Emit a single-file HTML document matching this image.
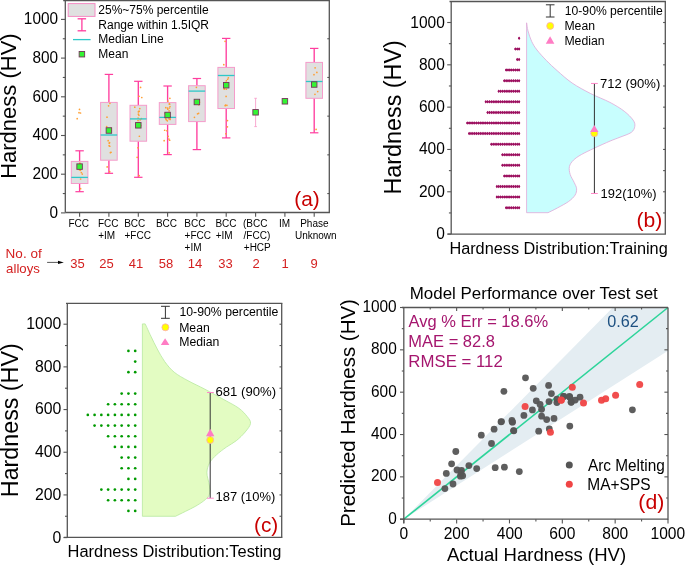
<!DOCTYPE html>
<html><head><meta charset="utf-8"><style>
html,body{margin:0;padding:0;background:#fff;}
svg{display:block;will-change:transform;}
text{font-family:"Liberation Sans", sans-serif;}
</style></head><body>
<svg width="685" height="566" viewBox="0 0 685 566">
<rect width="685" height="566" fill="#fff"/>
<line x1="79.60" y1="150.80" x2="79.60" y2="161.40" stroke="#ff3d9e" stroke-width="1.35" />
<line x1="79.60" y1="183.50" x2="79.60" y2="191.70" stroke="#ff3d9e" stroke-width="1.35" />
<line x1="75.40" y1="150.80" x2="83.80" y2="150.80" stroke="#ff3d9e" stroke-width="1.2" />
<line x1="75.40" y1="191.70" x2="83.80" y2="191.70" stroke="#ff3d9e" stroke-width="1.2" />
<rect x="71.30" y="161.40" width="16.60" height="22.10" fill="#e0e0e0" stroke="#f59ccb" stroke-width="1.0"/>
<line x1="108.90" y1="74.40" x2="108.90" y2="102.40" stroke="#ff3d9e" stroke-width="1.35" />
<line x1="108.90" y1="160.20" x2="108.90" y2="173.30" stroke="#ff3d9e" stroke-width="1.35" />
<line x1="104.70" y1="74.40" x2="113.10" y2="74.40" stroke="#ff3d9e" stroke-width="1.2" />
<line x1="104.70" y1="173.30" x2="113.10" y2="173.30" stroke="#ff3d9e" stroke-width="1.2" />
<rect x="100.60" y="102.40" width="16.60" height="57.80" fill="#e0e0e0" stroke="#f59ccb" stroke-width="1.0"/>
<line x1="138.30" y1="81.30" x2="138.30" y2="105.30" stroke="#ff3d9e" stroke-width="1.35" />
<line x1="138.30" y1="141.20" x2="138.30" y2="177.30" stroke="#ff3d9e" stroke-width="1.35" />
<line x1="134.10" y1="81.30" x2="142.50" y2="81.30" stroke="#ff3d9e" stroke-width="1.2" />
<line x1="134.10" y1="177.30" x2="142.50" y2="177.30" stroke="#ff3d9e" stroke-width="1.2" />
<rect x="130.00" y="105.30" width="16.60" height="35.90" fill="#e0e0e0" stroke="#f59ccb" stroke-width="1.0"/>
<line x1="167.60" y1="86.00" x2="167.60" y2="102.60" stroke="#ff3d9e" stroke-width="1.35" />
<line x1="167.60" y1="124.40" x2="167.60" y2="154.60" stroke="#ff3d9e" stroke-width="1.35" />
<line x1="163.40" y1="86.00" x2="171.80" y2="86.00" stroke="#ff3d9e" stroke-width="1.2" />
<line x1="163.40" y1="154.60" x2="171.80" y2="154.60" stroke="#ff3d9e" stroke-width="1.2" />
<rect x="159.30" y="102.60" width="16.60" height="21.80" fill="#e0e0e0" stroke="#f59ccb" stroke-width="1.0"/>
<line x1="196.90" y1="78.50" x2="196.90" y2="85.70" stroke="#ff3d9e" stroke-width="1.35" />
<line x1="196.90" y1="121.60" x2="196.90" y2="149.60" stroke="#ff3d9e" stroke-width="1.35" />
<line x1="192.70" y1="78.50" x2="201.10" y2="78.50" stroke="#ff3d9e" stroke-width="1.2" />
<line x1="192.70" y1="149.60" x2="201.10" y2="149.60" stroke="#ff3d9e" stroke-width="1.2" />
<rect x="188.60" y="85.70" width="16.60" height="35.90" fill="#e0e0e0" stroke="#f59ccb" stroke-width="1.0"/>
<line x1="226.20" y1="38.40" x2="226.20" y2="67.40" stroke="#ff3d9e" stroke-width="1.35" />
<line x1="226.20" y1="108.50" x2="226.20" y2="137.90" stroke="#ff3d9e" stroke-width="1.35" />
<line x1="222.00" y1="38.40" x2="230.40" y2="38.40" stroke="#ff3d9e" stroke-width="1.2" />
<line x1="222.00" y1="137.90" x2="230.40" y2="137.90" stroke="#ff3d9e" stroke-width="1.2" />
<rect x="217.90" y="67.40" width="16.60" height="41.10" fill="#e0e0e0" stroke="#f59ccb" stroke-width="1.0"/>
<line x1="314.20" y1="48.40" x2="314.20" y2="62.40" stroke="#ff3d9e" stroke-width="1.35" />
<line x1="314.20" y1="98.30" x2="314.20" y2="132.80" stroke="#ff3d9e" stroke-width="1.35" />
<line x1="310.00" y1="48.40" x2="318.40" y2="48.40" stroke="#ff3d9e" stroke-width="1.2" />
<line x1="310.00" y1="132.80" x2="318.40" y2="132.80" stroke="#ff3d9e" stroke-width="1.2" />
<rect x="305.90" y="62.40" width="16.60" height="35.90" fill="#e0e0e0" stroke="#f59ccb" stroke-width="1.0"/>
<line x1="255.60" y1="98.30" x2="255.60" y2="126.60" stroke="#f7a0cc" stroke-width="0.9" />
<line x1="254.30" y1="98.30" x2="256.90" y2="98.30" stroke="#f7a0cc" stroke-width="0.9" />
<line x1="254.30" y1="126.60" x2="256.90" y2="126.60" stroke="#f7a0cc" stroke-width="0.9" />
<circle cx="79.58" cy="165.43" r="0.85" fill="#ff9f33" stroke="none" stroke-width="0.8"/>
<circle cx="79.46" cy="169.75" r="0.85" fill="#ff9f33" stroke="none" stroke-width="0.8"/>
<circle cx="81.35" cy="172.60" r="0.85" fill="#ff9f33" stroke="none" stroke-width="0.8"/>
<circle cx="80.25" cy="164.22" r="0.85" fill="#ff9f33" stroke="none" stroke-width="0.8"/>
<circle cx="80.61" cy="179.02" r="0.85" fill="#ff9f33" stroke="none" stroke-width="0.8"/>
<circle cx="80.60" cy="188.67" r="0.85" fill="#ff9f33" stroke="none" stroke-width="0.8"/>
<circle cx="80.33" cy="170.37" r="0.85" fill="#ff9f33" stroke="none" stroke-width="0.8"/>
<circle cx="79.84" cy="163.07" r="0.85" fill="#ff9f33" stroke="none" stroke-width="0.8"/>
<circle cx="78.97" cy="164.77" r="0.85" fill="#ff9f33" stroke="none" stroke-width="0.8"/>
<circle cx="82.30" cy="174.09" r="0.85" fill="#ff9f33" stroke="none" stroke-width="0.8"/>
<circle cx="79.42" cy="166.29" r="0.85" fill="#ff9f33" stroke="none" stroke-width="0.8"/>
<circle cx="79.75" cy="166.54" r="0.85" fill="#ff9f33" stroke="none" stroke-width="0.8"/>
<circle cx="79.17" cy="168.43" r="0.85" fill="#ff9f33" stroke="none" stroke-width="0.8"/>
<circle cx="81.61" cy="168.43" r="0.85" fill="#ff9f33" stroke="none" stroke-width="0.8"/>
<circle cx="109.27" cy="143.13" r="0.85" fill="#ff9f33" stroke="none" stroke-width="0.8"/>
<circle cx="111.03" cy="152.23" r="0.85" fill="#ff9f33" stroke="none" stroke-width="0.8"/>
<circle cx="109.90" cy="103.30" r="0.85" fill="#ff9f33" stroke="none" stroke-width="0.8"/>
<circle cx="109.11" cy="145.65" r="0.85" fill="#ff9f33" stroke="none" stroke-width="0.8"/>
<circle cx="111.22" cy="130.68" r="0.85" fill="#ff9f33" stroke="none" stroke-width="0.8"/>
<circle cx="109.71" cy="130.93" r="0.85" fill="#ff9f33" stroke="none" stroke-width="0.8"/>
<circle cx="108.57" cy="105.80" r="0.85" fill="#ff9f33" stroke="none" stroke-width="0.8"/>
<circle cx="107.43" cy="128.86" r="0.85" fill="#ff9f33" stroke="none" stroke-width="0.8"/>
<circle cx="107.16" cy="166.94" r="0.85" fill="#ff9f33" stroke="none" stroke-width="0.8"/>
<circle cx="109.54" cy="142.54" r="0.85" fill="#ff9f33" stroke="none" stroke-width="0.8"/>
<circle cx="109.70" cy="171.63" r="0.85" fill="#ff9f33" stroke="none" stroke-width="0.8"/>
<circle cx="108.17" cy="140.71" r="0.85" fill="#ff9f33" stroke="none" stroke-width="0.8"/>
<circle cx="109.54" cy="129.16" r="0.85" fill="#ff9f33" stroke="none" stroke-width="0.8"/>
<circle cx="109.81" cy="146.27" r="0.85" fill="#ff9f33" stroke="none" stroke-width="0.8"/>
<circle cx="107.00" cy="117.22" r="0.85" fill="#ff9f33" stroke="none" stroke-width="0.8"/>
<circle cx="110.99" cy="128.46" r="0.85" fill="#ff9f33" stroke="none" stroke-width="0.8"/>
<circle cx="110.38" cy="152.69" r="0.85" fill="#ff9f33" stroke="none" stroke-width="0.8"/>
<circle cx="106.66" cy="126.57" r="0.85" fill="#ff9f33" stroke="none" stroke-width="0.8"/>
<circle cx="139.37" cy="136.27" r="0.85" fill="#ff9f33" stroke="none" stroke-width="0.8"/>
<circle cx="138.39" cy="114.16" r="0.85" fill="#ff9f33" stroke="none" stroke-width="0.8"/>
<circle cx="137.67" cy="122.74" r="0.85" fill="#ff9f33" stroke="none" stroke-width="0.8"/>
<circle cx="138.02" cy="120.50" r="0.85" fill="#ff9f33" stroke="none" stroke-width="0.8"/>
<circle cx="140.65" cy="125.50" r="0.85" fill="#ff9f33" stroke="none" stroke-width="0.8"/>
<circle cx="137.98" cy="127.24" r="0.85" fill="#ff9f33" stroke="none" stroke-width="0.8"/>
<circle cx="140.57" cy="87.38" r="0.85" fill="#ff9f33" stroke="none" stroke-width="0.8"/>
<circle cx="137.16" cy="157.30" r="0.85" fill="#ff9f33" stroke="none" stroke-width="0.8"/>
<circle cx="140.18" cy="119.83" r="0.85" fill="#ff9f33" stroke="none" stroke-width="0.8"/>
<circle cx="139.80" cy="108.58" r="0.85" fill="#ff9f33" stroke="none" stroke-width="0.8"/>
<circle cx="138.35" cy="111.80" r="0.85" fill="#ff9f33" stroke="none" stroke-width="0.8"/>
<circle cx="138.99" cy="111.43" r="0.85" fill="#ff9f33" stroke="none" stroke-width="0.8"/>
<circle cx="141.41" cy="118.63" r="0.85" fill="#ff9f33" stroke="none" stroke-width="0.8"/>
<circle cx="139.05" cy="96.26" r="0.85" fill="#ff9f33" stroke="none" stroke-width="0.8"/>
<circle cx="138.13" cy="118.08" r="0.85" fill="#ff9f33" stroke="none" stroke-width="0.8"/>
<circle cx="139.14" cy="175.65" r="0.85" fill="#ff9f33" stroke="none" stroke-width="0.8"/>
<circle cx="139.16" cy="122.70" r="0.85" fill="#ff9f33" stroke="none" stroke-width="0.8"/>
<circle cx="138.93" cy="115.28" r="0.85" fill="#ff9f33" stroke="none" stroke-width="0.8"/>
<circle cx="141.80" cy="97.48" r="0.85" fill="#ff9f33" stroke="none" stroke-width="0.8"/>
<circle cx="139.10" cy="111.27" r="0.85" fill="#ff9f33" stroke="none" stroke-width="0.8"/>
<circle cx="134.80" cy="107.22" r="0.85" fill="#ff9f33" stroke="none" stroke-width="0.8"/>
<circle cx="137.92" cy="147.74" r="0.85" fill="#ff9f33" stroke="none" stroke-width="0.8"/>
<circle cx="169.10" cy="110.86" r="0.85" fill="#ff9f33" stroke="none" stroke-width="0.8"/>
<circle cx="169.99" cy="119.03" r="0.85" fill="#ff9f33" stroke="none" stroke-width="0.8"/>
<circle cx="169.43" cy="108.02" r="0.85" fill="#ff9f33" stroke="none" stroke-width="0.8"/>
<circle cx="164.14" cy="140.68" r="0.85" fill="#ff9f33" stroke="none" stroke-width="0.8"/>
<circle cx="168.15" cy="136.28" r="0.85" fill="#ff9f33" stroke="none" stroke-width="0.8"/>
<circle cx="169.57" cy="104.17" r="0.85" fill="#ff9f33" stroke="none" stroke-width="0.8"/>
<circle cx="167.78" cy="109.13" r="0.85" fill="#ff9f33" stroke="none" stroke-width="0.8"/>
<circle cx="170.05" cy="116.79" r="0.85" fill="#ff9f33" stroke="none" stroke-width="0.8"/>
<circle cx="169.18" cy="152.80" r="0.85" fill="#ff9f33" stroke="none" stroke-width="0.8"/>
<circle cx="167.53" cy="108.09" r="0.85" fill="#ff9f33" stroke="none" stroke-width="0.8"/>
<circle cx="165.76" cy="107.65" r="0.85" fill="#ff9f33" stroke="none" stroke-width="0.8"/>
<circle cx="165.79" cy="118.93" r="0.85" fill="#ff9f33" stroke="none" stroke-width="0.8"/>
<circle cx="169.67" cy="140.26" r="0.85" fill="#ff9f33" stroke="none" stroke-width="0.8"/>
<circle cx="168.95" cy="139.10" r="0.85" fill="#ff9f33" stroke="none" stroke-width="0.8"/>
<circle cx="168.97" cy="118.84" r="0.85" fill="#ff9f33" stroke="none" stroke-width="0.8"/>
<circle cx="170.13" cy="119.46" r="0.85" fill="#ff9f33" stroke="none" stroke-width="0.8"/>
<circle cx="165.14" cy="113.36" r="0.85" fill="#ff9f33" stroke="none" stroke-width="0.8"/>
<circle cx="169.87" cy="98.32" r="0.85" fill="#ff9f33" stroke="none" stroke-width="0.8"/>
<circle cx="170.00" cy="106.59" r="0.85" fill="#ff9f33" stroke="none" stroke-width="0.8"/>
<circle cx="166.47" cy="119.96" r="0.85" fill="#ff9f33" stroke="none" stroke-width="0.8"/>
<circle cx="166.86" cy="130.77" r="0.85" fill="#ff9f33" stroke="none" stroke-width="0.8"/>
<circle cx="169.33" cy="103.88" r="0.85" fill="#ff9f33" stroke="none" stroke-width="0.8"/>
<circle cx="164.68" cy="130.27" r="0.85" fill="#ff9f33" stroke="none" stroke-width="0.8"/>
<circle cx="167.36" cy="120.86" r="0.85" fill="#ff9f33" stroke="none" stroke-width="0.8"/>
<circle cx="167.89" cy="101.06" r="0.85" fill="#ff9f33" stroke="none" stroke-width="0.8"/>
<circle cx="169.07" cy="115.21" r="0.85" fill="#ff9f33" stroke="none" stroke-width="0.8"/>
<circle cx="199.29" cy="100.90" r="0.85" fill="#ff9f33" stroke="none" stroke-width="0.8"/>
<circle cx="199.45" cy="102.23" r="0.85" fill="#ff9f33" stroke="none" stroke-width="0.8"/>
<circle cx="194.45" cy="117.36" r="0.85" fill="#ff9f33" stroke="none" stroke-width="0.8"/>
<circle cx="198.70" cy="104.73" r="0.85" fill="#ff9f33" stroke="none" stroke-width="0.8"/>
<circle cx="196.37" cy="87.33" r="0.85" fill="#ff9f33" stroke="none" stroke-width="0.8"/>
<circle cx="197.53" cy="113.79" r="0.85" fill="#ff9f33" stroke="none" stroke-width="0.8"/>
<circle cx="196.92" cy="102.75" r="0.85" fill="#ff9f33" stroke="none" stroke-width="0.8"/>
<circle cx="195.44" cy="104.27" r="0.85" fill="#ff9f33" stroke="none" stroke-width="0.8"/>
<circle cx="198.61" cy="113.29" r="0.85" fill="#ff9f33" stroke="none" stroke-width="0.8"/>
<circle cx="227.61" cy="79.23" r="0.85" fill="#ff9f33" stroke="none" stroke-width="0.8"/>
<circle cx="224.31" cy="88.90" r="0.85" fill="#ff9f33" stroke="none" stroke-width="0.8"/>
<circle cx="225.61" cy="82.62" r="0.85" fill="#ff9f33" stroke="none" stroke-width="0.8"/>
<circle cx="224.36" cy="88.69" r="0.85" fill="#ff9f33" stroke="none" stroke-width="0.8"/>
<circle cx="226.34" cy="89.25" r="0.85" fill="#ff9f33" stroke="none" stroke-width="0.8"/>
<circle cx="225.60" cy="105.21" r="0.85" fill="#ff9f33" stroke="none" stroke-width="0.8"/>
<circle cx="223.78" cy="64.71" r="0.85" fill="#ff9f33" stroke="none" stroke-width="0.8"/>
<circle cx="226.91" cy="105.28" r="0.85" fill="#ff9f33" stroke="none" stroke-width="0.8"/>
<circle cx="225.86" cy="85.69" r="0.85" fill="#ff9f33" stroke="none" stroke-width="0.8"/>
<circle cx="228.37" cy="77.81" r="0.85" fill="#ff9f33" stroke="none" stroke-width="0.8"/>
<circle cx="227.42" cy="126.86" r="0.85" fill="#ff9f33" stroke="none" stroke-width="0.8"/>
<circle cx="226.08" cy="96.40" r="0.85" fill="#ff9f33" stroke="none" stroke-width="0.8"/>
<circle cx="225.84" cy="133.74" r="0.85" fill="#ff9f33" stroke="none" stroke-width="0.8"/>
<circle cx="225.20" cy="105.64" r="0.85" fill="#ff9f33" stroke="none" stroke-width="0.8"/>
<circle cx="227.47" cy="120.56" r="0.85" fill="#ff9f33" stroke="none" stroke-width="0.8"/>
<circle cx="225.23" cy="85.27" r="0.85" fill="#ff9f33" stroke="none" stroke-width="0.8"/>
<circle cx="226.38" cy="80.85" r="0.85" fill="#ff9f33" stroke="none" stroke-width="0.8"/>
<circle cx="225.08" cy="41.30" r="0.85" fill="#ff9f33" stroke="none" stroke-width="0.8"/>
<circle cx="314.00" cy="74.64" r="0.85" fill="#ff9f33" stroke="none" stroke-width="0.8"/>
<circle cx="317.70" cy="91.61" r="0.85" fill="#ff9f33" stroke="none" stroke-width="0.8"/>
<circle cx="316.10" cy="129.47" r="0.85" fill="#ff9f33" stroke="none" stroke-width="0.8"/>
<circle cx="316.86" cy="72.40" r="0.85" fill="#ff9f33" stroke="none" stroke-width="0.8"/>
<circle cx="315.10" cy="67.79" r="0.85" fill="#ff9f33" stroke="none" stroke-width="0.8"/>
<circle cx="314.95" cy="94.30" r="0.85" fill="#ff9f33" stroke="none" stroke-width="0.8"/>
<circle cx="79.50" cy="109.40" r="0.85" fill="#ff9f33" stroke="none" stroke-width="0.8"/>
<circle cx="79.00" cy="112.70" r="0.85" fill="#ff9f33" stroke="none" stroke-width="0.8"/>
<circle cx="80.50" cy="113.00" r="0.85" fill="#ff9f33" stroke="none" stroke-width="0.8"/>
<circle cx="77.20" cy="118.70" r="0.85" fill="#ff9f33" stroke="none" stroke-width="0.8"/>
<line x1="71.30" y1="177.40" x2="87.90" y2="177.40" stroke="#2ec8c8" stroke-width="1.3" />
<line x1="100.60" y1="135.00" x2="117.20" y2="135.00" stroke="#2ec8c8" stroke-width="1.3" />
<line x1="130.00" y1="118.90" x2="146.60" y2="118.90" stroke="#2ec8c8" stroke-width="1.3" />
<line x1="159.30" y1="117.40" x2="175.90" y2="117.40" stroke="#2ec8c8" stroke-width="1.3" />
<line x1="188.60" y1="91.10" x2="205.20" y2="91.10" stroke="#2ec8c8" stroke-width="1.3" />
<line x1="217.90" y1="75.50" x2="234.50" y2="75.50" stroke="#2ec8c8" stroke-width="1.3" />
<line x1="305.90" y1="81.50" x2="322.50" y2="81.50" stroke="#2ec8c8" stroke-width="1.3" />
<rect x="76.85" y="163.85" width="5.50" height="5.50" fill="#33f533" stroke="#74345a" stroke-width="0.9"/>
<rect x="106.15" y="127.75" width="5.50" height="5.50" fill="#33f533" stroke="#74345a" stroke-width="0.9"/>
<rect x="135.55" y="122.55" width="5.50" height="5.50" fill="#33f533" stroke="#74345a" stroke-width="0.9"/>
<rect x="164.85" y="112.25" width="5.50" height="5.50" fill="#33f533" stroke="#74345a" stroke-width="0.9"/>
<rect x="194.15" y="99.25" width="5.50" height="5.50" fill="#33f533" stroke="#74345a" stroke-width="0.9"/>
<rect x="223.45" y="82.45" width="5.50" height="5.50" fill="#33f533" stroke="#74345a" stroke-width="0.9"/>
<rect x="252.85" y="109.55" width="5.50" height="5.50" fill="#33f533" stroke="#74345a" stroke-width="0.9"/>
<rect x="282.15" y="98.55" width="5.50" height="5.50" fill="#33f533" stroke="#74345a" stroke-width="0.9"/>
<rect x="311.45" y="81.75" width="5.50" height="5.50" fill="#33f533" stroke="#74345a" stroke-width="0.9"/>
<line x1="63.20" y1="0.60" x2="329.95" y2="0.60" stroke="#555" stroke-width="1.3" />
<line x1="329.30" y1="0.60" x2="329.30" y2="212.50" stroke="#555" stroke-width="1.3" />
<line x1="65.30" y1="212.50" x2="329.95" y2="212.50" stroke="#555" stroke-width="1.3" />
<line x1="65.30" y1="0.60" x2="65.30" y2="212.50" stroke="#555" stroke-width="1.3" />
<line x1="61.00" y1="212.90" x2="65.30" y2="212.90" stroke="#555" stroke-width="1.1" />
<text x="49.50" y="217.75" font-size="15.9" fill="#000" textLength="8.53" lengthAdjust="spacingAndGlyphs" >0</text>
<line x1="62.80" y1="193.55" x2="65.30" y2="193.55" stroke="#555" stroke-width="1.1" />
<line x1="327.30" y1="193.55" x2="329.30" y2="193.55" stroke="#555" stroke-width="1.1" />
<line x1="61.00" y1="174.20" x2="65.30" y2="174.20" stroke="#555" stroke-width="1.1" />
<text x="32.47" y="179.05" font-size="15.9" fill="#000" textLength="25.60" lengthAdjust="spacingAndGlyphs" >200</text>
<line x1="62.80" y1="154.85" x2="65.30" y2="154.85" stroke="#555" stroke-width="1.1" />
<line x1="327.30" y1="154.85" x2="329.30" y2="154.85" stroke="#555" stroke-width="1.1" />
<line x1="61.00" y1="135.50" x2="65.30" y2="135.50" stroke="#555" stroke-width="1.1" />
<text x="32.47" y="140.35" font-size="15.9" fill="#000" textLength="25.60" lengthAdjust="spacingAndGlyphs" >400</text>
<line x1="62.80" y1="116.15" x2="65.30" y2="116.15" stroke="#555" stroke-width="1.1" />
<line x1="327.30" y1="116.15" x2="329.30" y2="116.15" stroke="#555" stroke-width="1.1" />
<line x1="61.00" y1="96.80" x2="65.30" y2="96.80" stroke="#555" stroke-width="1.1" />
<text x="32.47" y="101.65" font-size="15.9" fill="#000" textLength="25.60" lengthAdjust="spacingAndGlyphs" >600</text>
<line x1="62.80" y1="77.45" x2="65.30" y2="77.45" stroke="#555" stroke-width="1.1" />
<line x1="327.30" y1="77.45" x2="329.30" y2="77.45" stroke="#555" stroke-width="1.1" />
<line x1="61.00" y1="58.10" x2="65.30" y2="58.10" stroke="#555" stroke-width="1.1" />
<text x="32.47" y="62.95" font-size="15.9" fill="#000" textLength="25.60" lengthAdjust="spacingAndGlyphs" >800</text>
<line x1="62.80" y1="38.75" x2="65.30" y2="38.75" stroke="#555" stroke-width="1.1" />
<line x1="327.30" y1="38.75" x2="329.30" y2="38.75" stroke="#555" stroke-width="1.1" />
<line x1="61.00" y1="19.40" x2="65.30" y2="19.40" stroke="#555" stroke-width="1.1" />
<text x="23.87" y="24.25" font-size="15.9" fill="#000" textLength="34.13" lengthAdjust="spacingAndGlyphs" >1000</text>
<line x1="79.60" y1="212.50" x2="79.60" y2="216.70" stroke="#555" stroke-width="1.1" />
<line x1="108.90" y1="212.50" x2="108.90" y2="216.70" stroke="#555" stroke-width="1.1" />
<line x1="138.30" y1="212.50" x2="138.30" y2="216.70" stroke="#555" stroke-width="1.1" />
<line x1="167.60" y1="212.50" x2="167.60" y2="216.70" stroke="#555" stroke-width="1.1" />
<line x1="196.90" y1="212.50" x2="196.90" y2="216.70" stroke="#555" stroke-width="1.1" />
<line x1="226.20" y1="212.50" x2="226.20" y2="216.70" stroke="#555" stroke-width="1.1" />
<line x1="255.60" y1="212.50" x2="255.60" y2="216.70" stroke="#555" stroke-width="1.1" />
<line x1="284.90" y1="212.50" x2="284.90" y2="216.70" stroke="#555" stroke-width="1.1" />
<line x1="314.20" y1="212.50" x2="314.20" y2="216.70" stroke="#555" stroke-width="1.1" />
<text transform="translate(15.70,178.86) rotate(-90)" font-size="22" fill="#000" textLength="145.55" lengthAdjust="spacingAndGlyphs">Hardness (HV)</text>
<text x="68.40" y="226.80" font-size="10" fill="#000" text-anchor="start" >FCC</text>
<text x="97.90" y="226.80" font-size="10" fill="#000" text-anchor="start" >FCC</text>
<text x="98.20" y="239.10" font-size="10" fill="#000" text-anchor="start" >+IM</text>
<text x="124.20" y="226.80" font-size="10" fill="#000" text-anchor="start" >BCC</text>
<text x="124.50" y="239.10" font-size="10" fill="#000" text-anchor="start" >+FCC</text>
<text x="155.90" y="226.80" font-size="10" fill="#000" text-anchor="start" >BCC</text>
<text x="184.30" y="226.80" font-size="10" fill="#000" text-anchor="start" >BCC</text>
<text x="184.60" y="239.10" font-size="10" fill="#000" text-anchor="start" >+FCC</text>
<text x="184.60" y="251.40" font-size="10" fill="#000" text-anchor="start" >+IM</text>
<text x="215.40" y="226.80" font-size="10" fill="#000" text-anchor="start" >BCC</text>
<text x="215.70" y="239.10" font-size="10" fill="#000" text-anchor="start" >+IM</text>
<text x="243.00" y="226.80" font-size="10" fill="#000" text-anchor="start" >(BCC</text>
<text x="243.60" y="239.10" font-size="10" fill="#000" text-anchor="start" >/FCC)</text>
<text x="243.80" y="251.40" font-size="10" fill="#000" text-anchor="start" >+HCP</text>
<text x="279.10" y="226.80" font-size="10" fill="#000" text-anchor="start" >IM</text>
<text x="300.20" y="226.80" font-size="10" fill="#000" text-anchor="start" >Phase</text>
<text x="294.95" y="239.10" font-size="10" fill="#000" text-anchor="start" >Unknown</text>
<text x="77.40" y="267.60" font-size="13" fill="#d42020" text-anchor="middle" >35</text>
<text x="106.40" y="267.60" font-size="13" fill="#d42020" text-anchor="middle" >25</text>
<text x="136.00" y="267.60" font-size="13" fill="#d42020" text-anchor="middle" >41</text>
<text x="166.10" y="267.60" font-size="13" fill="#d42020" text-anchor="middle" >58</text>
<text x="194.90" y="267.60" font-size="13" fill="#d42020" text-anchor="middle" >14</text>
<text x="225.50" y="267.60" font-size="13" fill="#d42020" text-anchor="middle" >33</text>
<text x="256.10" y="267.60" font-size="13" fill="#d42020" text-anchor="middle" >2</text>
<text x="285.20" y="267.60" font-size="13" fill="#d42020" text-anchor="middle" >1</text>
<text x="314.20" y="267.60" font-size="13" fill="#d42020" text-anchor="middle" >9</text>
<text x="5.62" y="257.80" font-size="12.7" fill="#d42020" textLength="36.05" lengthAdjust="spacingAndGlyphs" >No. of</text>
<text x="6.11" y="272.60" font-size="12.7" fill="#d42020" textLength="33.78" lengthAdjust="spacingAndGlyphs" >alloys</text>
<line x1="47.10" y1="262.40" x2="58.50" y2="262.40" stroke="#222" stroke-width="0.75" />
<polygon points="63.80,262.40 58.00,260.80 58.00,264.00" fill="#000" stroke="none" stroke-width="1"/>
<text x="294.35" y="206.20" font-size="20.5" fill="#c80000" textLength="25.45" lengthAdjust="spacingAndGlyphs" >(a)</text>
<rect x="68.20" y="3.60" width="26.80" height="12.80" fill="#e0e0e0" stroke="#f48cc4" stroke-width="1.0"/>
<line x1="81.90" y1="18.80" x2="81.90" y2="30.80" stroke="#ff3d9e" stroke-width="1.3" />
<line x1="77.60" y1="18.80" x2="86.10" y2="18.80" stroke="#ff3d9e" stroke-width="1.3" />
<line x1="77.60" y1="30.80" x2="86.10" y2="30.80" stroke="#ff3d9e" stroke-width="1.3" />
<line x1="73.00" y1="39.60" x2="90.60" y2="39.60" stroke="#2ec8c8" stroke-width="1.3" />
<rect x="79.15" y="51.45" width="5.50" height="5.50" fill="#33f533" stroke="#74345a" stroke-width="0.9"/>
<text x="98.30" y="14.10" font-size="12" fill="#000" text-anchor="start" >25%~75% percentile</text>
<text x="98.30" y="28.70" font-size="12" fill="#000" text-anchor="start" >Range within 1.5IQR</text>
<text x="98.30" y="43.00" font-size="12" fill="#000" text-anchor="start" >Median Line</text>
<text x="98.30" y="57.80" font-size="12" fill="#000" text-anchor="start" >Mean</text>
<path d="M526.60,22.80 C526.83,24.15 527.15,27.78 528.00,30.90 C528.85,34.02 530.20,38.32 531.70,41.50 C533.20,44.68 534.53,46.82 537.00,50.00 C539.47,53.18 543.15,57.17 546.50,60.60 C549.85,64.03 552.83,66.87 557.10,70.60 C561.37,74.33 566.50,79.17 572.10,83.00 C577.70,86.83 584.38,90.37 590.70,93.60 C597.02,96.83 604.42,99.47 610.00,102.40 C615.58,105.33 620.35,108.25 624.20,111.20 C628.05,114.15 631.33,117.58 633.10,120.10 C634.87,122.62 635.10,124.25 634.80,126.30 C634.50,128.35 633.77,130.58 631.30,132.40 C628.83,134.22 623.55,135.75 620.00,137.20 C616.45,138.65 614.33,139.25 610.00,141.10 C605.67,142.95 598.78,146.05 594.00,148.30 C589.22,150.55 584.73,152.62 581.30,154.60 C577.87,156.58 575.38,158.20 573.40,160.20 C571.42,162.20 569.93,164.22 569.40,166.60 C568.87,168.98 569.40,171.85 570.20,174.50 C571.00,177.15 573.13,180.12 574.20,182.50 C575.27,184.88 576.47,186.68 576.60,188.80 C576.73,190.92 576.33,193.08 575.00,195.20 C573.67,197.32 571.52,199.38 568.60,201.50 C565.68,203.62 560.93,206.03 557.50,207.90 C554.07,209.77 549.58,211.90 548.00,212.70 L526.6,212.7 Z" fill="#c8fefe" stroke="#e0a8d8" stroke-width="0.8"/>
<circle cx="519.10" cy="38.37" r="1.0" fill="#9c0f5f" stroke="none" stroke-width="0.8"/>
<polygon points="517.90,38.37 519.10,36.62 520.30,38.37 519.10,40.12" fill="#9c0f5f" stroke="none" stroke-width="1"/>
<circle cx="519.10" cy="48.95" r="1.0" fill="#9c0f5f" stroke="none" stroke-width="0.8"/>
<polygon points="517.90,48.95 519.10,47.20 520.30,48.95 519.10,50.70" fill="#9c0f5f" stroke="none" stroke-width="1"/>
<circle cx="517.25" cy="48.95" r="1.0" fill="#9c0f5f" stroke="none" stroke-width="0.8"/>
<polygon points="516.05,48.95 517.25,47.20 518.45,48.95 517.25,50.70" fill="#9c0f5f" stroke="none" stroke-width="1"/>
<circle cx="515.40" cy="48.95" r="1.0" fill="#9c0f5f" stroke="none" stroke-width="0.8"/>
<polygon points="514.20,48.95 515.40,47.20 516.60,48.95 515.40,50.70" fill="#9c0f5f" stroke="none" stroke-width="1"/>
<circle cx="519.10" cy="59.53" r="1.0" fill="#9c0f5f" stroke="none" stroke-width="0.8"/>
<polygon points="517.90,59.53 519.10,57.78 520.30,59.53 519.10,61.28" fill="#9c0f5f" stroke="none" stroke-width="1"/>
<circle cx="517.25" cy="59.53" r="1.0" fill="#9c0f5f" stroke="none" stroke-width="0.8"/>
<polygon points="516.05,59.53 517.25,57.78 518.45,59.53 517.25,61.28" fill="#9c0f5f" stroke="none" stroke-width="1"/>
<circle cx="519.10" cy="70.11" r="1.0" fill="#9c0f5f" stroke="none" stroke-width="0.8"/>
<polygon points="517.90,70.11 519.10,68.36 520.30,70.11 519.10,71.86" fill="#9c0f5f" stroke="none" stroke-width="1"/>
<circle cx="517.25" cy="70.11" r="1.0" fill="#9c0f5f" stroke="none" stroke-width="0.8"/>
<polygon points="516.05,70.11 517.25,68.36 518.45,70.11 517.25,71.86" fill="#9c0f5f" stroke="none" stroke-width="1"/>
<circle cx="515.40" cy="70.11" r="1.0" fill="#9c0f5f" stroke="none" stroke-width="0.8"/>
<polygon points="514.20,70.11 515.40,68.36 516.60,70.11 515.40,71.86" fill="#9c0f5f" stroke="none" stroke-width="1"/>
<circle cx="513.55" cy="70.11" r="1.0" fill="#9c0f5f" stroke="none" stroke-width="0.8"/>
<polygon points="512.35,70.11 513.55,68.36 514.75,70.11 513.55,71.86" fill="#9c0f5f" stroke="none" stroke-width="1"/>
<circle cx="511.70" cy="70.11" r="1.0" fill="#9c0f5f" stroke="none" stroke-width="0.8"/>
<polygon points="510.50,70.11 511.70,68.36 512.90,70.11 511.70,71.86" fill="#9c0f5f" stroke="none" stroke-width="1"/>
<circle cx="509.85" cy="70.11" r="1.0" fill="#9c0f5f" stroke="none" stroke-width="0.8"/>
<polygon points="508.65,70.11 509.85,68.36 511.05,70.11 509.85,71.86" fill="#9c0f5f" stroke="none" stroke-width="1"/>
<circle cx="508.00" cy="70.11" r="1.0" fill="#9c0f5f" stroke="none" stroke-width="0.8"/>
<polygon points="506.80,70.11 508.00,68.36 509.20,70.11 508.00,71.86" fill="#9c0f5f" stroke="none" stroke-width="1"/>
<circle cx="506.15" cy="70.11" r="1.0" fill="#9c0f5f" stroke="none" stroke-width="0.8"/>
<polygon points="504.95,70.11 506.15,68.36 507.35,70.11 506.15,71.86" fill="#9c0f5f" stroke="none" stroke-width="1"/>
<circle cx="519.10" cy="80.69" r="1.0" fill="#9c0f5f" stroke="none" stroke-width="0.8"/>
<polygon points="517.90,80.69 519.10,78.94 520.30,80.69 519.10,82.44" fill="#9c0f5f" stroke="none" stroke-width="1"/>
<circle cx="517.25" cy="80.69" r="1.0" fill="#9c0f5f" stroke="none" stroke-width="0.8"/>
<polygon points="516.05,80.69 517.25,78.94 518.45,80.69 517.25,82.44" fill="#9c0f5f" stroke="none" stroke-width="1"/>
<circle cx="515.40" cy="80.69" r="1.0" fill="#9c0f5f" stroke="none" stroke-width="0.8"/>
<polygon points="514.20,80.69 515.40,78.94 516.60,80.69 515.40,82.44" fill="#9c0f5f" stroke="none" stroke-width="1"/>
<circle cx="513.55" cy="80.69" r="1.0" fill="#9c0f5f" stroke="none" stroke-width="0.8"/>
<polygon points="512.35,80.69 513.55,78.94 514.75,80.69 513.55,82.44" fill="#9c0f5f" stroke="none" stroke-width="1"/>
<circle cx="511.70" cy="80.69" r="1.0" fill="#9c0f5f" stroke="none" stroke-width="0.8"/>
<polygon points="510.50,80.69 511.70,78.94 512.90,80.69 511.70,82.44" fill="#9c0f5f" stroke="none" stroke-width="1"/>
<circle cx="509.85" cy="80.69" r="1.0" fill="#9c0f5f" stroke="none" stroke-width="0.8"/>
<polygon points="508.65,80.69 509.85,78.94 511.05,80.69 509.85,82.44" fill="#9c0f5f" stroke="none" stroke-width="1"/>
<circle cx="508.00" cy="80.69" r="1.0" fill="#9c0f5f" stroke="none" stroke-width="0.8"/>
<polygon points="506.80,80.69 508.00,78.94 509.20,80.69 508.00,82.44" fill="#9c0f5f" stroke="none" stroke-width="1"/>
<circle cx="506.15" cy="80.69" r="1.0" fill="#9c0f5f" stroke="none" stroke-width="0.8"/>
<polygon points="504.95,80.69 506.15,78.94 507.35,80.69 506.15,82.44" fill="#9c0f5f" stroke="none" stroke-width="1"/>
<circle cx="504.30" cy="80.69" r="1.0" fill="#9c0f5f" stroke="none" stroke-width="0.8"/>
<polygon points="503.10,80.69 504.30,78.94 505.50,80.69 504.30,82.44" fill="#9c0f5f" stroke="none" stroke-width="1"/>
<circle cx="519.10" cy="91.27" r="1.0" fill="#9c0f5f" stroke="none" stroke-width="0.8"/>
<polygon points="517.90,91.27 519.10,89.52 520.30,91.27 519.10,93.02" fill="#9c0f5f" stroke="none" stroke-width="1"/>
<circle cx="517.25" cy="91.27" r="1.0" fill="#9c0f5f" stroke="none" stroke-width="0.8"/>
<polygon points="516.05,91.27 517.25,89.52 518.45,91.27 517.25,93.02" fill="#9c0f5f" stroke="none" stroke-width="1"/>
<circle cx="515.40" cy="91.27" r="1.0" fill="#9c0f5f" stroke="none" stroke-width="0.8"/>
<polygon points="514.20,91.27 515.40,89.52 516.60,91.27 515.40,93.02" fill="#9c0f5f" stroke="none" stroke-width="1"/>
<circle cx="513.55" cy="91.27" r="1.0" fill="#9c0f5f" stroke="none" stroke-width="0.8"/>
<polygon points="512.35,91.27 513.55,89.52 514.75,91.27 513.55,93.02" fill="#9c0f5f" stroke="none" stroke-width="1"/>
<circle cx="511.70" cy="91.27" r="1.0" fill="#9c0f5f" stroke="none" stroke-width="0.8"/>
<polygon points="510.50,91.27 511.70,89.52 512.90,91.27 511.70,93.02" fill="#9c0f5f" stroke="none" stroke-width="1"/>
<circle cx="509.85" cy="91.27" r="1.0" fill="#9c0f5f" stroke="none" stroke-width="0.8"/>
<polygon points="508.65,91.27 509.85,89.52 511.05,91.27 509.85,93.02" fill="#9c0f5f" stroke="none" stroke-width="1"/>
<circle cx="508.00" cy="91.27" r="1.0" fill="#9c0f5f" stroke="none" stroke-width="0.8"/>
<polygon points="506.80,91.27 508.00,89.52 509.20,91.27 508.00,93.02" fill="#9c0f5f" stroke="none" stroke-width="1"/>
<circle cx="506.15" cy="91.27" r="1.0" fill="#9c0f5f" stroke="none" stroke-width="0.8"/>
<polygon points="504.95,91.27 506.15,89.52 507.35,91.27 506.15,93.02" fill="#9c0f5f" stroke="none" stroke-width="1"/>
<circle cx="504.30" cy="91.27" r="1.0" fill="#9c0f5f" stroke="none" stroke-width="0.8"/>
<polygon points="503.10,91.27 504.30,89.52 505.50,91.27 504.30,93.02" fill="#9c0f5f" stroke="none" stroke-width="1"/>
<circle cx="502.45" cy="91.27" r="1.0" fill="#9c0f5f" stroke="none" stroke-width="0.8"/>
<polygon points="501.25,91.27 502.45,89.52 503.65,91.27 502.45,93.02" fill="#9c0f5f" stroke="none" stroke-width="1"/>
<circle cx="500.60" cy="91.27" r="1.0" fill="#9c0f5f" stroke="none" stroke-width="0.8"/>
<polygon points="499.40,91.27 500.60,89.52 501.80,91.27 500.60,93.02" fill="#9c0f5f" stroke="none" stroke-width="1"/>
<circle cx="498.75" cy="91.27" r="1.0" fill="#9c0f5f" stroke="none" stroke-width="0.8"/>
<polygon points="497.55,91.27 498.75,89.52 499.95,91.27 498.75,93.02" fill="#9c0f5f" stroke="none" stroke-width="1"/>
<circle cx="519.10" cy="101.85" r="1.0" fill="#9c0f5f" stroke="none" stroke-width="0.8"/>
<polygon points="517.90,101.85 519.10,100.10 520.30,101.85 519.10,103.60" fill="#9c0f5f" stroke="none" stroke-width="1"/>
<circle cx="517.25" cy="101.85" r="1.0" fill="#9c0f5f" stroke="none" stroke-width="0.8"/>
<polygon points="516.05,101.85 517.25,100.10 518.45,101.85 517.25,103.60" fill="#9c0f5f" stroke="none" stroke-width="1"/>
<circle cx="515.40" cy="101.85" r="1.0" fill="#9c0f5f" stroke="none" stroke-width="0.8"/>
<polygon points="514.20,101.85 515.40,100.10 516.60,101.85 515.40,103.60" fill="#9c0f5f" stroke="none" stroke-width="1"/>
<circle cx="513.55" cy="101.85" r="1.0" fill="#9c0f5f" stroke="none" stroke-width="0.8"/>
<polygon points="512.35,101.85 513.55,100.10 514.75,101.85 513.55,103.60" fill="#9c0f5f" stroke="none" stroke-width="1"/>
<circle cx="511.70" cy="101.85" r="1.0" fill="#9c0f5f" stroke="none" stroke-width="0.8"/>
<polygon points="510.50,101.85 511.70,100.10 512.90,101.85 511.70,103.60" fill="#9c0f5f" stroke="none" stroke-width="1"/>
<circle cx="509.85" cy="101.85" r="1.0" fill="#9c0f5f" stroke="none" stroke-width="0.8"/>
<polygon points="508.65,101.85 509.85,100.10 511.05,101.85 509.85,103.60" fill="#9c0f5f" stroke="none" stroke-width="1"/>
<circle cx="508.00" cy="101.85" r="1.0" fill="#9c0f5f" stroke="none" stroke-width="0.8"/>
<polygon points="506.80,101.85 508.00,100.10 509.20,101.85 508.00,103.60" fill="#9c0f5f" stroke="none" stroke-width="1"/>
<circle cx="506.15" cy="101.85" r="1.0" fill="#9c0f5f" stroke="none" stroke-width="0.8"/>
<polygon points="504.95,101.85 506.15,100.10 507.35,101.85 506.15,103.60" fill="#9c0f5f" stroke="none" stroke-width="1"/>
<circle cx="504.30" cy="101.85" r="1.0" fill="#9c0f5f" stroke="none" stroke-width="0.8"/>
<polygon points="503.10,101.85 504.30,100.10 505.50,101.85 504.30,103.60" fill="#9c0f5f" stroke="none" stroke-width="1"/>
<circle cx="502.45" cy="101.85" r="1.0" fill="#9c0f5f" stroke="none" stroke-width="0.8"/>
<polygon points="501.25,101.85 502.45,100.10 503.65,101.85 502.45,103.60" fill="#9c0f5f" stroke="none" stroke-width="1"/>
<circle cx="500.60" cy="101.85" r="1.0" fill="#9c0f5f" stroke="none" stroke-width="0.8"/>
<polygon points="499.40,101.85 500.60,100.10 501.80,101.85 500.60,103.60" fill="#9c0f5f" stroke="none" stroke-width="1"/>
<circle cx="498.75" cy="101.85" r="1.0" fill="#9c0f5f" stroke="none" stroke-width="0.8"/>
<polygon points="497.55,101.85 498.75,100.10 499.95,101.85 498.75,103.60" fill="#9c0f5f" stroke="none" stroke-width="1"/>
<circle cx="496.90" cy="101.85" r="1.0" fill="#9c0f5f" stroke="none" stroke-width="0.8"/>
<polygon points="495.70,101.85 496.90,100.10 498.10,101.85 496.90,103.60" fill="#9c0f5f" stroke="none" stroke-width="1"/>
<circle cx="495.05" cy="101.85" r="1.0" fill="#9c0f5f" stroke="none" stroke-width="0.8"/>
<polygon points="493.85,101.85 495.05,100.10 496.25,101.85 495.05,103.60" fill="#9c0f5f" stroke="none" stroke-width="1"/>
<circle cx="493.20" cy="101.85" r="1.0" fill="#9c0f5f" stroke="none" stroke-width="0.8"/>
<polygon points="492.00,101.85 493.20,100.10 494.40,101.85 493.20,103.60" fill="#9c0f5f" stroke="none" stroke-width="1"/>
<circle cx="491.35" cy="101.85" r="1.0" fill="#9c0f5f" stroke="none" stroke-width="0.8"/>
<polygon points="490.15,101.85 491.35,100.10 492.55,101.85 491.35,103.60" fill="#9c0f5f" stroke="none" stroke-width="1"/>
<circle cx="489.50" cy="101.85" r="1.0" fill="#9c0f5f" stroke="none" stroke-width="0.8"/>
<polygon points="488.30,101.85 489.50,100.10 490.70,101.85 489.50,103.60" fill="#9c0f5f" stroke="none" stroke-width="1"/>
<circle cx="487.65" cy="101.85" r="1.0" fill="#9c0f5f" stroke="none" stroke-width="0.8"/>
<polygon points="486.45,101.85 487.65,100.10 488.85,101.85 487.65,103.60" fill="#9c0f5f" stroke="none" stroke-width="1"/>
<circle cx="485.80" cy="101.85" r="1.0" fill="#9c0f5f" stroke="none" stroke-width="0.8"/>
<polygon points="484.60,101.85 485.80,100.10 487.00,101.85 485.80,103.60" fill="#9c0f5f" stroke="none" stroke-width="1"/>
<circle cx="519.10" cy="112.43" r="1.0" fill="#9c0f5f" stroke="none" stroke-width="0.8"/>
<polygon points="517.90,112.43 519.10,110.68 520.30,112.43 519.10,114.18" fill="#9c0f5f" stroke="none" stroke-width="1"/>
<circle cx="517.25" cy="112.43" r="1.0" fill="#9c0f5f" stroke="none" stroke-width="0.8"/>
<polygon points="516.05,112.43 517.25,110.68 518.45,112.43 517.25,114.18" fill="#9c0f5f" stroke="none" stroke-width="1"/>
<circle cx="515.40" cy="112.43" r="1.0" fill="#9c0f5f" stroke="none" stroke-width="0.8"/>
<polygon points="514.20,112.43 515.40,110.68 516.60,112.43 515.40,114.18" fill="#9c0f5f" stroke="none" stroke-width="1"/>
<circle cx="513.55" cy="112.43" r="1.0" fill="#9c0f5f" stroke="none" stroke-width="0.8"/>
<polygon points="512.35,112.43 513.55,110.68 514.75,112.43 513.55,114.18" fill="#9c0f5f" stroke="none" stroke-width="1"/>
<circle cx="511.70" cy="112.43" r="1.0" fill="#9c0f5f" stroke="none" stroke-width="0.8"/>
<polygon points="510.50,112.43 511.70,110.68 512.90,112.43 511.70,114.18" fill="#9c0f5f" stroke="none" stroke-width="1"/>
<circle cx="509.85" cy="112.43" r="1.0" fill="#9c0f5f" stroke="none" stroke-width="0.8"/>
<polygon points="508.65,112.43 509.85,110.68 511.05,112.43 509.85,114.18" fill="#9c0f5f" stroke="none" stroke-width="1"/>
<circle cx="508.00" cy="112.43" r="1.0" fill="#9c0f5f" stroke="none" stroke-width="0.8"/>
<polygon points="506.80,112.43 508.00,110.68 509.20,112.43 508.00,114.18" fill="#9c0f5f" stroke="none" stroke-width="1"/>
<circle cx="506.15" cy="112.43" r="1.0" fill="#9c0f5f" stroke="none" stroke-width="0.8"/>
<polygon points="504.95,112.43 506.15,110.68 507.35,112.43 506.15,114.18" fill="#9c0f5f" stroke="none" stroke-width="1"/>
<circle cx="504.30" cy="112.43" r="1.0" fill="#9c0f5f" stroke="none" stroke-width="0.8"/>
<polygon points="503.10,112.43 504.30,110.68 505.50,112.43 504.30,114.18" fill="#9c0f5f" stroke="none" stroke-width="1"/>
<circle cx="502.45" cy="112.43" r="1.0" fill="#9c0f5f" stroke="none" stroke-width="0.8"/>
<polygon points="501.25,112.43 502.45,110.68 503.65,112.43 502.45,114.18" fill="#9c0f5f" stroke="none" stroke-width="1"/>
<circle cx="500.60" cy="112.43" r="1.0" fill="#9c0f5f" stroke="none" stroke-width="0.8"/>
<polygon points="499.40,112.43 500.60,110.68 501.80,112.43 500.60,114.18" fill="#9c0f5f" stroke="none" stroke-width="1"/>
<circle cx="498.75" cy="112.43" r="1.0" fill="#9c0f5f" stroke="none" stroke-width="0.8"/>
<polygon points="497.55,112.43 498.75,110.68 499.95,112.43 498.75,114.18" fill="#9c0f5f" stroke="none" stroke-width="1"/>
<circle cx="496.90" cy="112.43" r="1.0" fill="#9c0f5f" stroke="none" stroke-width="0.8"/>
<polygon points="495.70,112.43 496.90,110.68 498.10,112.43 496.90,114.18" fill="#9c0f5f" stroke="none" stroke-width="1"/>
<circle cx="495.05" cy="112.43" r="1.0" fill="#9c0f5f" stroke="none" stroke-width="0.8"/>
<polygon points="493.85,112.43 495.05,110.68 496.25,112.43 495.05,114.18" fill="#9c0f5f" stroke="none" stroke-width="1"/>
<circle cx="493.20" cy="112.43" r="1.0" fill="#9c0f5f" stroke="none" stroke-width="0.8"/>
<polygon points="492.00,112.43 493.20,110.68 494.40,112.43 493.20,114.18" fill="#9c0f5f" stroke="none" stroke-width="1"/>
<circle cx="491.35" cy="112.43" r="1.0" fill="#9c0f5f" stroke="none" stroke-width="0.8"/>
<polygon points="490.15,112.43 491.35,110.68 492.55,112.43 491.35,114.18" fill="#9c0f5f" stroke="none" stroke-width="1"/>
<circle cx="489.50" cy="112.43" r="1.0" fill="#9c0f5f" stroke="none" stroke-width="0.8"/>
<polygon points="488.30,112.43 489.50,110.68 490.70,112.43 489.50,114.18" fill="#9c0f5f" stroke="none" stroke-width="1"/>
<circle cx="487.65" cy="112.43" r="1.0" fill="#9c0f5f" stroke="none" stroke-width="0.8"/>
<polygon points="486.45,112.43 487.65,110.68 488.85,112.43 487.65,114.18" fill="#9c0f5f" stroke="none" stroke-width="1"/>
<circle cx="519.10" cy="123.01" r="1.0" fill="#9c0f5f" stroke="none" stroke-width="0.8"/>
<polygon points="517.90,123.01 519.10,121.26 520.30,123.01 519.10,124.76" fill="#9c0f5f" stroke="none" stroke-width="1"/>
<circle cx="517.25" cy="123.01" r="1.0" fill="#9c0f5f" stroke="none" stroke-width="0.8"/>
<polygon points="516.05,123.01 517.25,121.26 518.45,123.01 517.25,124.76" fill="#9c0f5f" stroke="none" stroke-width="1"/>
<circle cx="515.40" cy="123.01" r="1.0" fill="#9c0f5f" stroke="none" stroke-width="0.8"/>
<polygon points="514.20,123.01 515.40,121.26 516.60,123.01 515.40,124.76" fill="#9c0f5f" stroke="none" stroke-width="1"/>
<circle cx="513.55" cy="123.01" r="1.0" fill="#9c0f5f" stroke="none" stroke-width="0.8"/>
<polygon points="512.35,123.01 513.55,121.26 514.75,123.01 513.55,124.76" fill="#9c0f5f" stroke="none" stroke-width="1"/>
<circle cx="511.70" cy="123.01" r="1.0" fill="#9c0f5f" stroke="none" stroke-width="0.8"/>
<polygon points="510.50,123.01 511.70,121.26 512.90,123.01 511.70,124.76" fill="#9c0f5f" stroke="none" stroke-width="1"/>
<circle cx="509.85" cy="123.01" r="1.0" fill="#9c0f5f" stroke="none" stroke-width="0.8"/>
<polygon points="508.65,123.01 509.85,121.26 511.05,123.01 509.85,124.76" fill="#9c0f5f" stroke="none" stroke-width="1"/>
<circle cx="508.00" cy="123.01" r="1.0" fill="#9c0f5f" stroke="none" stroke-width="0.8"/>
<polygon points="506.80,123.01 508.00,121.26 509.20,123.01 508.00,124.76" fill="#9c0f5f" stroke="none" stroke-width="1"/>
<circle cx="506.15" cy="123.01" r="1.0" fill="#9c0f5f" stroke="none" stroke-width="0.8"/>
<polygon points="504.95,123.01 506.15,121.26 507.35,123.01 506.15,124.76" fill="#9c0f5f" stroke="none" stroke-width="1"/>
<circle cx="504.30" cy="123.01" r="1.0" fill="#9c0f5f" stroke="none" stroke-width="0.8"/>
<polygon points="503.10,123.01 504.30,121.26 505.50,123.01 504.30,124.76" fill="#9c0f5f" stroke="none" stroke-width="1"/>
<circle cx="502.45" cy="123.01" r="1.0" fill="#9c0f5f" stroke="none" stroke-width="0.8"/>
<polygon points="501.25,123.01 502.45,121.26 503.65,123.01 502.45,124.76" fill="#9c0f5f" stroke="none" stroke-width="1"/>
<circle cx="500.60" cy="123.01" r="1.0" fill="#9c0f5f" stroke="none" stroke-width="0.8"/>
<polygon points="499.40,123.01 500.60,121.26 501.80,123.01 500.60,124.76" fill="#9c0f5f" stroke="none" stroke-width="1"/>
<circle cx="498.75" cy="123.01" r="1.0" fill="#9c0f5f" stroke="none" stroke-width="0.8"/>
<polygon points="497.55,123.01 498.75,121.26 499.95,123.01 498.75,124.76" fill="#9c0f5f" stroke="none" stroke-width="1"/>
<circle cx="496.90" cy="123.01" r="1.0" fill="#9c0f5f" stroke="none" stroke-width="0.8"/>
<polygon points="495.70,123.01 496.90,121.26 498.10,123.01 496.90,124.76" fill="#9c0f5f" stroke="none" stroke-width="1"/>
<circle cx="495.05" cy="123.01" r="1.0" fill="#9c0f5f" stroke="none" stroke-width="0.8"/>
<polygon points="493.85,123.01 495.05,121.26 496.25,123.01 495.05,124.76" fill="#9c0f5f" stroke="none" stroke-width="1"/>
<circle cx="493.20" cy="123.01" r="1.0" fill="#9c0f5f" stroke="none" stroke-width="0.8"/>
<polygon points="492.00,123.01 493.20,121.26 494.40,123.01 493.20,124.76" fill="#9c0f5f" stroke="none" stroke-width="1"/>
<circle cx="491.35" cy="123.01" r="1.0" fill="#9c0f5f" stroke="none" stroke-width="0.8"/>
<polygon points="490.15,123.01 491.35,121.26 492.55,123.01 491.35,124.76" fill="#9c0f5f" stroke="none" stroke-width="1"/>
<circle cx="489.50" cy="123.01" r="1.0" fill="#9c0f5f" stroke="none" stroke-width="0.8"/>
<polygon points="488.30,123.01 489.50,121.26 490.70,123.01 489.50,124.76" fill="#9c0f5f" stroke="none" stroke-width="1"/>
<circle cx="487.65" cy="123.01" r="1.0" fill="#9c0f5f" stroke="none" stroke-width="0.8"/>
<polygon points="486.45,123.01 487.65,121.26 488.85,123.01 487.65,124.76" fill="#9c0f5f" stroke="none" stroke-width="1"/>
<circle cx="485.80" cy="123.01" r="1.0" fill="#9c0f5f" stroke="none" stroke-width="0.8"/>
<polygon points="484.60,123.01 485.80,121.26 487.00,123.01 485.80,124.76" fill="#9c0f5f" stroke="none" stroke-width="1"/>
<circle cx="483.95" cy="123.01" r="1.0" fill="#9c0f5f" stroke="none" stroke-width="0.8"/>
<polygon points="482.75,123.01 483.95,121.26 485.15,123.01 483.95,124.76" fill="#9c0f5f" stroke="none" stroke-width="1"/>
<circle cx="482.10" cy="123.01" r="1.0" fill="#9c0f5f" stroke="none" stroke-width="0.8"/>
<polygon points="480.90,123.01 482.10,121.26 483.30,123.01 482.10,124.76" fill="#9c0f5f" stroke="none" stroke-width="1"/>
<circle cx="480.25" cy="123.01" r="1.0" fill="#9c0f5f" stroke="none" stroke-width="0.8"/>
<polygon points="479.05,123.01 480.25,121.26 481.45,123.01 480.25,124.76" fill="#9c0f5f" stroke="none" stroke-width="1"/>
<circle cx="478.40" cy="123.01" r="1.0" fill="#9c0f5f" stroke="none" stroke-width="0.8"/>
<polygon points="477.20,123.01 478.40,121.26 479.60,123.01 478.40,124.76" fill="#9c0f5f" stroke="none" stroke-width="1"/>
<circle cx="476.55" cy="123.01" r="1.0" fill="#9c0f5f" stroke="none" stroke-width="0.8"/>
<polygon points="475.35,123.01 476.55,121.26 477.75,123.01 476.55,124.76" fill="#9c0f5f" stroke="none" stroke-width="1"/>
<circle cx="474.70" cy="123.01" r="1.0" fill="#9c0f5f" stroke="none" stroke-width="0.8"/>
<polygon points="473.50,123.01 474.70,121.26 475.90,123.01 474.70,124.76" fill="#9c0f5f" stroke="none" stroke-width="1"/>
<circle cx="472.85" cy="123.01" r="1.0" fill="#9c0f5f" stroke="none" stroke-width="0.8"/>
<polygon points="471.65,123.01 472.85,121.26 474.05,123.01 472.85,124.76" fill="#9c0f5f" stroke="none" stroke-width="1"/>
<circle cx="471.00" cy="123.01" r="1.0" fill="#9c0f5f" stroke="none" stroke-width="0.8"/>
<polygon points="469.80,123.01 471.00,121.26 472.20,123.01 471.00,124.76" fill="#9c0f5f" stroke="none" stroke-width="1"/>
<circle cx="469.15" cy="123.01" r="1.0" fill="#9c0f5f" stroke="none" stroke-width="0.8"/>
<polygon points="467.95,123.01 469.15,121.26 470.35,123.01 469.15,124.76" fill="#9c0f5f" stroke="none" stroke-width="1"/>
<circle cx="467.30" cy="123.01" r="1.0" fill="#9c0f5f" stroke="none" stroke-width="0.8"/>
<polygon points="466.10,123.01 467.30,121.26 468.50,123.01 467.30,124.76" fill="#9c0f5f" stroke="none" stroke-width="1"/>
<circle cx="519.10" cy="133.59" r="1.0" fill="#9c0f5f" stroke="none" stroke-width="0.8"/>
<polygon points="517.90,133.59 519.10,131.84 520.30,133.59 519.10,135.34" fill="#9c0f5f" stroke="none" stroke-width="1"/>
<circle cx="517.25" cy="133.59" r="1.0" fill="#9c0f5f" stroke="none" stroke-width="0.8"/>
<polygon points="516.05,133.59 517.25,131.84 518.45,133.59 517.25,135.34" fill="#9c0f5f" stroke="none" stroke-width="1"/>
<circle cx="515.40" cy="133.59" r="1.0" fill="#9c0f5f" stroke="none" stroke-width="0.8"/>
<polygon points="514.20,133.59 515.40,131.84 516.60,133.59 515.40,135.34" fill="#9c0f5f" stroke="none" stroke-width="1"/>
<circle cx="513.55" cy="133.59" r="1.0" fill="#9c0f5f" stroke="none" stroke-width="0.8"/>
<polygon points="512.35,133.59 513.55,131.84 514.75,133.59 513.55,135.34" fill="#9c0f5f" stroke="none" stroke-width="1"/>
<circle cx="511.70" cy="133.59" r="1.0" fill="#9c0f5f" stroke="none" stroke-width="0.8"/>
<polygon points="510.50,133.59 511.70,131.84 512.90,133.59 511.70,135.34" fill="#9c0f5f" stroke="none" stroke-width="1"/>
<circle cx="509.85" cy="133.59" r="1.0" fill="#9c0f5f" stroke="none" stroke-width="0.8"/>
<polygon points="508.65,133.59 509.85,131.84 511.05,133.59 509.85,135.34" fill="#9c0f5f" stroke="none" stroke-width="1"/>
<circle cx="508.00" cy="133.59" r="1.0" fill="#9c0f5f" stroke="none" stroke-width="0.8"/>
<polygon points="506.80,133.59 508.00,131.84 509.20,133.59 508.00,135.34" fill="#9c0f5f" stroke="none" stroke-width="1"/>
<circle cx="506.15" cy="133.59" r="1.0" fill="#9c0f5f" stroke="none" stroke-width="0.8"/>
<polygon points="504.95,133.59 506.15,131.84 507.35,133.59 506.15,135.34" fill="#9c0f5f" stroke="none" stroke-width="1"/>
<circle cx="504.30" cy="133.59" r="1.0" fill="#9c0f5f" stroke="none" stroke-width="0.8"/>
<polygon points="503.10,133.59 504.30,131.84 505.50,133.59 504.30,135.34" fill="#9c0f5f" stroke="none" stroke-width="1"/>
<circle cx="502.45" cy="133.59" r="1.0" fill="#9c0f5f" stroke="none" stroke-width="0.8"/>
<polygon points="501.25,133.59 502.45,131.84 503.65,133.59 502.45,135.34" fill="#9c0f5f" stroke="none" stroke-width="1"/>
<circle cx="500.60" cy="133.59" r="1.0" fill="#9c0f5f" stroke="none" stroke-width="0.8"/>
<polygon points="499.40,133.59 500.60,131.84 501.80,133.59 500.60,135.34" fill="#9c0f5f" stroke="none" stroke-width="1"/>
<circle cx="498.75" cy="133.59" r="1.0" fill="#9c0f5f" stroke="none" stroke-width="0.8"/>
<polygon points="497.55,133.59 498.75,131.84 499.95,133.59 498.75,135.34" fill="#9c0f5f" stroke="none" stroke-width="1"/>
<circle cx="496.90" cy="133.59" r="1.0" fill="#9c0f5f" stroke="none" stroke-width="0.8"/>
<polygon points="495.70,133.59 496.90,131.84 498.10,133.59 496.90,135.34" fill="#9c0f5f" stroke="none" stroke-width="1"/>
<circle cx="495.05" cy="133.59" r="1.0" fill="#9c0f5f" stroke="none" stroke-width="0.8"/>
<polygon points="493.85,133.59 495.05,131.84 496.25,133.59 495.05,135.34" fill="#9c0f5f" stroke="none" stroke-width="1"/>
<circle cx="493.20" cy="133.59" r="1.0" fill="#9c0f5f" stroke="none" stroke-width="0.8"/>
<polygon points="492.00,133.59 493.20,131.84 494.40,133.59 493.20,135.34" fill="#9c0f5f" stroke="none" stroke-width="1"/>
<circle cx="491.35" cy="133.59" r="1.0" fill="#9c0f5f" stroke="none" stroke-width="0.8"/>
<polygon points="490.15,133.59 491.35,131.84 492.55,133.59 491.35,135.34" fill="#9c0f5f" stroke="none" stroke-width="1"/>
<circle cx="489.50" cy="133.59" r="1.0" fill="#9c0f5f" stroke="none" stroke-width="0.8"/>
<polygon points="488.30,133.59 489.50,131.84 490.70,133.59 489.50,135.34" fill="#9c0f5f" stroke="none" stroke-width="1"/>
<circle cx="487.65" cy="133.59" r="1.0" fill="#9c0f5f" stroke="none" stroke-width="0.8"/>
<polygon points="486.45,133.59 487.65,131.84 488.85,133.59 487.65,135.34" fill="#9c0f5f" stroke="none" stroke-width="1"/>
<circle cx="485.80" cy="133.59" r="1.0" fill="#9c0f5f" stroke="none" stroke-width="0.8"/>
<polygon points="484.60,133.59 485.80,131.84 487.00,133.59 485.80,135.34" fill="#9c0f5f" stroke="none" stroke-width="1"/>
<circle cx="483.95" cy="133.59" r="1.0" fill="#9c0f5f" stroke="none" stroke-width="0.8"/>
<polygon points="482.75,133.59 483.95,131.84 485.15,133.59 483.95,135.34" fill="#9c0f5f" stroke="none" stroke-width="1"/>
<circle cx="482.10" cy="133.59" r="1.0" fill="#9c0f5f" stroke="none" stroke-width="0.8"/>
<polygon points="480.90,133.59 482.10,131.84 483.30,133.59 482.10,135.34" fill="#9c0f5f" stroke="none" stroke-width="1"/>
<circle cx="480.25" cy="133.59" r="1.0" fill="#9c0f5f" stroke="none" stroke-width="0.8"/>
<polygon points="479.05,133.59 480.25,131.84 481.45,133.59 480.25,135.34" fill="#9c0f5f" stroke="none" stroke-width="1"/>
<circle cx="478.40" cy="133.59" r="1.0" fill="#9c0f5f" stroke="none" stroke-width="0.8"/>
<polygon points="477.20,133.59 478.40,131.84 479.60,133.59 478.40,135.34" fill="#9c0f5f" stroke="none" stroke-width="1"/>
<circle cx="476.55" cy="133.59" r="1.0" fill="#9c0f5f" stroke="none" stroke-width="0.8"/>
<polygon points="475.35,133.59 476.55,131.84 477.75,133.59 476.55,135.34" fill="#9c0f5f" stroke="none" stroke-width="1"/>
<circle cx="474.70" cy="133.59" r="1.0" fill="#9c0f5f" stroke="none" stroke-width="0.8"/>
<polygon points="473.50,133.59 474.70,131.84 475.90,133.59 474.70,135.34" fill="#9c0f5f" stroke="none" stroke-width="1"/>
<circle cx="472.85" cy="133.59" r="1.0" fill="#9c0f5f" stroke="none" stroke-width="0.8"/>
<polygon points="471.65,133.59 472.85,131.84 474.05,133.59 472.85,135.34" fill="#9c0f5f" stroke="none" stroke-width="1"/>
<circle cx="471.00" cy="133.59" r="1.0" fill="#9c0f5f" stroke="none" stroke-width="0.8"/>
<polygon points="469.80,133.59 471.00,131.84 472.20,133.59 471.00,135.34" fill="#9c0f5f" stroke="none" stroke-width="1"/>
<circle cx="469.15" cy="133.59" r="1.0" fill="#9c0f5f" stroke="none" stroke-width="0.8"/>
<polygon points="467.95,133.59 469.15,131.84 470.35,133.59 469.15,135.34" fill="#9c0f5f" stroke="none" stroke-width="1"/>
<circle cx="519.10" cy="144.17" r="1.0" fill="#9c0f5f" stroke="none" stroke-width="0.8"/>
<polygon points="517.90,144.17 519.10,142.42 520.30,144.17 519.10,145.92" fill="#9c0f5f" stroke="none" stroke-width="1"/>
<circle cx="517.25" cy="144.17" r="1.0" fill="#9c0f5f" stroke="none" stroke-width="0.8"/>
<polygon points="516.05,144.17 517.25,142.42 518.45,144.17 517.25,145.92" fill="#9c0f5f" stroke="none" stroke-width="1"/>
<circle cx="515.40" cy="144.17" r="1.0" fill="#9c0f5f" stroke="none" stroke-width="0.8"/>
<polygon points="514.20,144.17 515.40,142.42 516.60,144.17 515.40,145.92" fill="#9c0f5f" stroke="none" stroke-width="1"/>
<circle cx="513.55" cy="144.17" r="1.0" fill="#9c0f5f" stroke="none" stroke-width="0.8"/>
<polygon points="512.35,144.17 513.55,142.42 514.75,144.17 513.55,145.92" fill="#9c0f5f" stroke="none" stroke-width="1"/>
<circle cx="511.70" cy="144.17" r="1.0" fill="#9c0f5f" stroke="none" stroke-width="0.8"/>
<polygon points="510.50,144.17 511.70,142.42 512.90,144.17 511.70,145.92" fill="#9c0f5f" stroke="none" stroke-width="1"/>
<circle cx="509.85" cy="144.17" r="1.0" fill="#9c0f5f" stroke="none" stroke-width="0.8"/>
<polygon points="508.65,144.17 509.85,142.42 511.05,144.17 509.85,145.92" fill="#9c0f5f" stroke="none" stroke-width="1"/>
<circle cx="508.00" cy="144.17" r="1.0" fill="#9c0f5f" stroke="none" stroke-width="0.8"/>
<polygon points="506.80,144.17 508.00,142.42 509.20,144.17 508.00,145.92" fill="#9c0f5f" stroke="none" stroke-width="1"/>
<circle cx="506.15" cy="144.17" r="1.0" fill="#9c0f5f" stroke="none" stroke-width="0.8"/>
<polygon points="504.95,144.17 506.15,142.42 507.35,144.17 506.15,145.92" fill="#9c0f5f" stroke="none" stroke-width="1"/>
<circle cx="504.30" cy="144.17" r="1.0" fill="#9c0f5f" stroke="none" stroke-width="0.8"/>
<polygon points="503.10,144.17 504.30,142.42 505.50,144.17 504.30,145.92" fill="#9c0f5f" stroke="none" stroke-width="1"/>
<circle cx="502.45" cy="144.17" r="1.0" fill="#9c0f5f" stroke="none" stroke-width="0.8"/>
<polygon points="501.25,144.17 502.45,142.42 503.65,144.17 502.45,145.92" fill="#9c0f5f" stroke="none" stroke-width="1"/>
<circle cx="500.60" cy="144.17" r="1.0" fill="#9c0f5f" stroke="none" stroke-width="0.8"/>
<polygon points="499.40,144.17 500.60,142.42 501.80,144.17 500.60,145.92" fill="#9c0f5f" stroke="none" stroke-width="1"/>
<circle cx="498.75" cy="144.17" r="1.0" fill="#9c0f5f" stroke="none" stroke-width="0.8"/>
<polygon points="497.55,144.17 498.75,142.42 499.95,144.17 498.75,145.92" fill="#9c0f5f" stroke="none" stroke-width="1"/>
<circle cx="496.90" cy="144.17" r="1.0" fill="#9c0f5f" stroke="none" stroke-width="0.8"/>
<polygon points="495.70,144.17 496.90,142.42 498.10,144.17 496.90,145.92" fill="#9c0f5f" stroke="none" stroke-width="1"/>
<circle cx="495.05" cy="144.17" r="1.0" fill="#9c0f5f" stroke="none" stroke-width="0.8"/>
<polygon points="493.85,144.17 495.05,142.42 496.25,144.17 495.05,145.92" fill="#9c0f5f" stroke="none" stroke-width="1"/>
<circle cx="493.20" cy="144.17" r="1.0" fill="#9c0f5f" stroke="none" stroke-width="0.8"/>
<polygon points="492.00,144.17 493.20,142.42 494.40,144.17 493.20,145.92" fill="#9c0f5f" stroke="none" stroke-width="1"/>
<circle cx="491.35" cy="144.17" r="1.0" fill="#9c0f5f" stroke="none" stroke-width="0.8"/>
<polygon points="490.15,144.17 491.35,142.42 492.55,144.17 491.35,145.92" fill="#9c0f5f" stroke="none" stroke-width="1"/>
<circle cx="519.10" cy="154.75" r="1.0" fill="#9c0f5f" stroke="none" stroke-width="0.8"/>
<polygon points="517.90,154.75 519.10,153.00 520.30,154.75 519.10,156.50" fill="#9c0f5f" stroke="none" stroke-width="1"/>
<circle cx="517.25" cy="154.75" r="1.0" fill="#9c0f5f" stroke="none" stroke-width="0.8"/>
<polygon points="516.05,154.75 517.25,153.00 518.45,154.75 517.25,156.50" fill="#9c0f5f" stroke="none" stroke-width="1"/>
<circle cx="515.40" cy="154.75" r="1.0" fill="#9c0f5f" stroke="none" stroke-width="0.8"/>
<polygon points="514.20,154.75 515.40,153.00 516.60,154.75 515.40,156.50" fill="#9c0f5f" stroke="none" stroke-width="1"/>
<circle cx="513.55" cy="154.75" r="1.0" fill="#9c0f5f" stroke="none" stroke-width="0.8"/>
<polygon points="512.35,154.75 513.55,153.00 514.75,154.75 513.55,156.50" fill="#9c0f5f" stroke="none" stroke-width="1"/>
<circle cx="511.70" cy="154.75" r="1.0" fill="#9c0f5f" stroke="none" stroke-width="0.8"/>
<polygon points="510.50,154.75 511.70,153.00 512.90,154.75 511.70,156.50" fill="#9c0f5f" stroke="none" stroke-width="1"/>
<circle cx="509.85" cy="154.75" r="1.0" fill="#9c0f5f" stroke="none" stroke-width="0.8"/>
<polygon points="508.65,154.75 509.85,153.00 511.05,154.75 509.85,156.50" fill="#9c0f5f" stroke="none" stroke-width="1"/>
<circle cx="508.00" cy="154.75" r="1.0" fill="#9c0f5f" stroke="none" stroke-width="0.8"/>
<polygon points="506.80,154.75 508.00,153.00 509.20,154.75 508.00,156.50" fill="#9c0f5f" stroke="none" stroke-width="1"/>
<circle cx="506.15" cy="154.75" r="1.0" fill="#9c0f5f" stroke="none" stroke-width="0.8"/>
<polygon points="504.95,154.75 506.15,153.00 507.35,154.75 506.15,156.50" fill="#9c0f5f" stroke="none" stroke-width="1"/>
<circle cx="504.30" cy="154.75" r="1.0" fill="#9c0f5f" stroke="none" stroke-width="0.8"/>
<polygon points="503.10,154.75 504.30,153.00 505.50,154.75 504.30,156.50" fill="#9c0f5f" stroke="none" stroke-width="1"/>
<circle cx="502.45" cy="154.75" r="1.0" fill="#9c0f5f" stroke="none" stroke-width="0.8"/>
<polygon points="501.25,154.75 502.45,153.00 503.65,154.75 502.45,156.50" fill="#9c0f5f" stroke="none" stroke-width="1"/>
<circle cx="519.10" cy="165.33" r="1.0" fill="#9c0f5f" stroke="none" stroke-width="0.8"/>
<polygon points="517.90,165.33 519.10,163.58 520.30,165.33 519.10,167.08" fill="#9c0f5f" stroke="none" stroke-width="1"/>
<circle cx="517.25" cy="165.33" r="1.0" fill="#9c0f5f" stroke="none" stroke-width="0.8"/>
<polygon points="516.05,165.33 517.25,163.58 518.45,165.33 517.25,167.08" fill="#9c0f5f" stroke="none" stroke-width="1"/>
<circle cx="515.40" cy="165.33" r="1.0" fill="#9c0f5f" stroke="none" stroke-width="0.8"/>
<polygon points="514.20,165.33 515.40,163.58 516.60,165.33 515.40,167.08" fill="#9c0f5f" stroke="none" stroke-width="1"/>
<circle cx="513.55" cy="165.33" r="1.0" fill="#9c0f5f" stroke="none" stroke-width="0.8"/>
<polygon points="512.35,165.33 513.55,163.58 514.75,165.33 513.55,167.08" fill="#9c0f5f" stroke="none" stroke-width="1"/>
<circle cx="511.70" cy="165.33" r="1.0" fill="#9c0f5f" stroke="none" stroke-width="0.8"/>
<polygon points="510.50,165.33 511.70,163.58 512.90,165.33 511.70,167.08" fill="#9c0f5f" stroke="none" stroke-width="1"/>
<circle cx="509.85" cy="165.33" r="1.0" fill="#9c0f5f" stroke="none" stroke-width="0.8"/>
<polygon points="508.65,165.33 509.85,163.58 511.05,165.33 509.85,167.08" fill="#9c0f5f" stroke="none" stroke-width="1"/>
<circle cx="508.00" cy="165.33" r="1.0" fill="#9c0f5f" stroke="none" stroke-width="0.8"/>
<polygon points="506.80,165.33 508.00,163.58 509.20,165.33 508.00,167.08" fill="#9c0f5f" stroke="none" stroke-width="1"/>
<circle cx="506.15" cy="165.33" r="1.0" fill="#9c0f5f" stroke="none" stroke-width="0.8"/>
<polygon points="504.95,165.33 506.15,163.58 507.35,165.33 506.15,167.08" fill="#9c0f5f" stroke="none" stroke-width="1"/>
<circle cx="504.30" cy="165.33" r="1.0" fill="#9c0f5f" stroke="none" stroke-width="0.8"/>
<polygon points="503.10,165.33 504.30,163.58 505.50,165.33 504.30,167.08" fill="#9c0f5f" stroke="none" stroke-width="1"/>
<circle cx="502.45" cy="165.33" r="1.0" fill="#9c0f5f" stroke="none" stroke-width="0.8"/>
<polygon points="501.25,165.33 502.45,163.58 503.65,165.33 502.45,167.08" fill="#9c0f5f" stroke="none" stroke-width="1"/>
<circle cx="519.10" cy="175.91" r="1.0" fill="#9c0f5f" stroke="none" stroke-width="0.8"/>
<polygon points="517.90,175.91 519.10,174.16 520.30,175.91 519.10,177.66" fill="#9c0f5f" stroke="none" stroke-width="1"/>
<circle cx="517.25" cy="175.91" r="1.0" fill="#9c0f5f" stroke="none" stroke-width="0.8"/>
<polygon points="516.05,175.91 517.25,174.16 518.45,175.91 517.25,177.66" fill="#9c0f5f" stroke="none" stroke-width="1"/>
<circle cx="515.40" cy="175.91" r="1.0" fill="#9c0f5f" stroke="none" stroke-width="0.8"/>
<polygon points="514.20,175.91 515.40,174.16 516.60,175.91 515.40,177.66" fill="#9c0f5f" stroke="none" stroke-width="1"/>
<circle cx="513.55" cy="175.91" r="1.0" fill="#9c0f5f" stroke="none" stroke-width="0.8"/>
<polygon points="512.35,175.91 513.55,174.16 514.75,175.91 513.55,177.66" fill="#9c0f5f" stroke="none" stroke-width="1"/>
<circle cx="511.70" cy="175.91" r="1.0" fill="#9c0f5f" stroke="none" stroke-width="0.8"/>
<polygon points="510.50,175.91 511.70,174.16 512.90,175.91 511.70,177.66" fill="#9c0f5f" stroke="none" stroke-width="1"/>
<circle cx="509.85" cy="175.91" r="1.0" fill="#9c0f5f" stroke="none" stroke-width="0.8"/>
<polygon points="508.65,175.91 509.85,174.16 511.05,175.91 509.85,177.66" fill="#9c0f5f" stroke="none" stroke-width="1"/>
<circle cx="508.00" cy="175.91" r="1.0" fill="#9c0f5f" stroke="none" stroke-width="0.8"/>
<polygon points="506.80,175.91 508.00,174.16 509.20,175.91 508.00,177.66" fill="#9c0f5f" stroke="none" stroke-width="1"/>
<circle cx="506.15" cy="175.91" r="1.0" fill="#9c0f5f" stroke="none" stroke-width="0.8"/>
<polygon points="504.95,175.91 506.15,174.16 507.35,175.91 506.15,177.66" fill="#9c0f5f" stroke="none" stroke-width="1"/>
<circle cx="504.30" cy="175.91" r="1.0" fill="#9c0f5f" stroke="none" stroke-width="0.8"/>
<polygon points="503.10,175.91 504.30,174.16 505.50,175.91 504.30,177.66" fill="#9c0f5f" stroke="none" stroke-width="1"/>
<circle cx="519.10" cy="186.49" r="1.0" fill="#9c0f5f" stroke="none" stroke-width="0.8"/>
<polygon points="517.90,186.49 519.10,184.74 520.30,186.49 519.10,188.24" fill="#9c0f5f" stroke="none" stroke-width="1"/>
<circle cx="517.25" cy="186.49" r="1.0" fill="#9c0f5f" stroke="none" stroke-width="0.8"/>
<polygon points="516.05,186.49 517.25,184.74 518.45,186.49 517.25,188.24" fill="#9c0f5f" stroke="none" stroke-width="1"/>
<circle cx="515.40" cy="186.49" r="1.0" fill="#9c0f5f" stroke="none" stroke-width="0.8"/>
<polygon points="514.20,186.49 515.40,184.74 516.60,186.49 515.40,188.24" fill="#9c0f5f" stroke="none" stroke-width="1"/>
<circle cx="513.55" cy="186.49" r="1.0" fill="#9c0f5f" stroke="none" stroke-width="0.8"/>
<polygon points="512.35,186.49 513.55,184.74 514.75,186.49 513.55,188.24" fill="#9c0f5f" stroke="none" stroke-width="1"/>
<circle cx="511.70" cy="186.49" r="1.0" fill="#9c0f5f" stroke="none" stroke-width="0.8"/>
<polygon points="510.50,186.49 511.70,184.74 512.90,186.49 511.70,188.24" fill="#9c0f5f" stroke="none" stroke-width="1"/>
<circle cx="509.85" cy="186.49" r="1.0" fill="#9c0f5f" stroke="none" stroke-width="0.8"/>
<polygon points="508.65,186.49 509.85,184.74 511.05,186.49 509.85,188.24" fill="#9c0f5f" stroke="none" stroke-width="1"/>
<circle cx="508.00" cy="186.49" r="1.0" fill="#9c0f5f" stroke="none" stroke-width="0.8"/>
<polygon points="506.80,186.49 508.00,184.74 509.20,186.49 508.00,188.24" fill="#9c0f5f" stroke="none" stroke-width="1"/>
<circle cx="506.15" cy="186.49" r="1.0" fill="#9c0f5f" stroke="none" stroke-width="0.8"/>
<polygon points="504.95,186.49 506.15,184.74 507.35,186.49 506.15,188.24" fill="#9c0f5f" stroke="none" stroke-width="1"/>
<circle cx="504.30" cy="186.49" r="1.0" fill="#9c0f5f" stroke="none" stroke-width="0.8"/>
<polygon points="503.10,186.49 504.30,184.74 505.50,186.49 504.30,188.24" fill="#9c0f5f" stroke="none" stroke-width="1"/>
<circle cx="502.45" cy="186.49" r="1.0" fill="#9c0f5f" stroke="none" stroke-width="0.8"/>
<polygon points="501.25,186.49 502.45,184.74 503.65,186.49 502.45,188.24" fill="#9c0f5f" stroke="none" stroke-width="1"/>
<circle cx="500.60" cy="186.49" r="1.0" fill="#9c0f5f" stroke="none" stroke-width="0.8"/>
<polygon points="499.40,186.49 500.60,184.74 501.80,186.49 500.60,188.24" fill="#9c0f5f" stroke="none" stroke-width="1"/>
<circle cx="498.75" cy="186.49" r="1.0" fill="#9c0f5f" stroke="none" stroke-width="0.8"/>
<polygon points="497.55,186.49 498.75,184.74 499.95,186.49 498.75,188.24" fill="#9c0f5f" stroke="none" stroke-width="1"/>
<circle cx="496.90" cy="186.49" r="1.0" fill="#9c0f5f" stroke="none" stroke-width="0.8"/>
<polygon points="495.70,186.49 496.90,184.74 498.10,186.49 496.90,188.24" fill="#9c0f5f" stroke="none" stroke-width="1"/>
<circle cx="519.10" cy="197.07" r="1.0" fill="#9c0f5f" stroke="none" stroke-width="0.8"/>
<polygon points="517.90,197.07 519.10,195.32 520.30,197.07 519.10,198.82" fill="#9c0f5f" stroke="none" stroke-width="1"/>
<circle cx="517.25" cy="197.07" r="1.0" fill="#9c0f5f" stroke="none" stroke-width="0.8"/>
<polygon points="516.05,197.07 517.25,195.32 518.45,197.07 517.25,198.82" fill="#9c0f5f" stroke="none" stroke-width="1"/>
<circle cx="515.40" cy="197.07" r="1.0" fill="#9c0f5f" stroke="none" stroke-width="0.8"/>
<polygon points="514.20,197.07 515.40,195.32 516.60,197.07 515.40,198.82" fill="#9c0f5f" stroke="none" stroke-width="1"/>
<circle cx="513.55" cy="197.07" r="1.0" fill="#9c0f5f" stroke="none" stroke-width="0.8"/>
<polygon points="512.35,197.07 513.55,195.32 514.75,197.07 513.55,198.82" fill="#9c0f5f" stroke="none" stroke-width="1"/>
<circle cx="511.70" cy="197.07" r="1.0" fill="#9c0f5f" stroke="none" stroke-width="0.8"/>
<polygon points="510.50,197.07 511.70,195.32 512.90,197.07 511.70,198.82" fill="#9c0f5f" stroke="none" stroke-width="1"/>
<circle cx="509.85" cy="197.07" r="1.0" fill="#9c0f5f" stroke="none" stroke-width="0.8"/>
<polygon points="508.65,197.07 509.85,195.32 511.05,197.07 509.85,198.82" fill="#9c0f5f" stroke="none" stroke-width="1"/>
<circle cx="508.00" cy="197.07" r="1.0" fill="#9c0f5f" stroke="none" stroke-width="0.8"/>
<polygon points="506.80,197.07 508.00,195.32 509.20,197.07 508.00,198.82" fill="#9c0f5f" stroke="none" stroke-width="1"/>
<circle cx="506.15" cy="197.07" r="1.0" fill="#9c0f5f" stroke="none" stroke-width="0.8"/>
<polygon points="504.95,197.07 506.15,195.32 507.35,197.07 506.15,198.82" fill="#9c0f5f" stroke="none" stroke-width="1"/>
<circle cx="504.30" cy="197.07" r="1.0" fill="#9c0f5f" stroke="none" stroke-width="0.8"/>
<polygon points="503.10,197.07 504.30,195.32 505.50,197.07 504.30,198.82" fill="#9c0f5f" stroke="none" stroke-width="1"/>
<circle cx="502.45" cy="197.07" r="1.0" fill="#9c0f5f" stroke="none" stroke-width="0.8"/>
<polygon points="501.25,197.07 502.45,195.32 503.65,197.07 502.45,198.82" fill="#9c0f5f" stroke="none" stroke-width="1"/>
<circle cx="500.60" cy="197.07" r="1.0" fill="#9c0f5f" stroke="none" stroke-width="0.8"/>
<polygon points="499.40,197.07 500.60,195.32 501.80,197.07 500.60,198.82" fill="#9c0f5f" stroke="none" stroke-width="1"/>
<circle cx="498.75" cy="197.07" r="1.0" fill="#9c0f5f" stroke="none" stroke-width="0.8"/>
<polygon points="497.55,197.07 498.75,195.32 499.95,197.07 498.75,198.82" fill="#9c0f5f" stroke="none" stroke-width="1"/>
<circle cx="496.90" cy="197.07" r="1.0" fill="#9c0f5f" stroke="none" stroke-width="0.8"/>
<polygon points="495.70,197.07 496.90,195.32 498.10,197.07 496.90,198.82" fill="#9c0f5f" stroke="none" stroke-width="1"/>
<circle cx="519.10" cy="207.65" r="1.0" fill="#9c0f5f" stroke="none" stroke-width="0.8"/>
<polygon points="517.90,207.65 519.10,205.90 520.30,207.65 519.10,209.40" fill="#9c0f5f" stroke="none" stroke-width="1"/>
<circle cx="517.25" cy="207.65" r="1.0" fill="#9c0f5f" stroke="none" stroke-width="0.8"/>
<polygon points="516.05,207.65 517.25,205.90 518.45,207.65 517.25,209.40" fill="#9c0f5f" stroke="none" stroke-width="1"/>
<circle cx="515.40" cy="207.65" r="1.0" fill="#9c0f5f" stroke="none" stroke-width="0.8"/>
<polygon points="514.20,207.65 515.40,205.90 516.60,207.65 515.40,209.40" fill="#9c0f5f" stroke="none" stroke-width="1"/>
<circle cx="513.55" cy="207.65" r="1.0" fill="#9c0f5f" stroke="none" stroke-width="0.8"/>
<polygon points="512.35,207.65 513.55,205.90 514.75,207.65 513.55,209.40" fill="#9c0f5f" stroke="none" stroke-width="1"/>
<circle cx="511.70" cy="207.65" r="1.0" fill="#9c0f5f" stroke="none" stroke-width="0.8"/>
<polygon points="510.50,207.65 511.70,205.90 512.90,207.65 511.70,209.40" fill="#9c0f5f" stroke="none" stroke-width="1"/>
<circle cx="509.85" cy="207.65" r="1.0" fill="#9c0f5f" stroke="none" stroke-width="0.8"/>
<polygon points="508.65,207.65 509.85,205.90 511.05,207.65 509.85,209.40" fill="#9c0f5f" stroke="none" stroke-width="1"/>
<circle cx="508.00" cy="207.65" r="1.0" fill="#9c0f5f" stroke="none" stroke-width="0.8"/>
<polygon points="506.80,207.65 508.00,205.90 509.20,207.65 508.00,209.40" fill="#9c0f5f" stroke="none" stroke-width="1"/>
<circle cx="506.15" cy="207.65" r="1.0" fill="#9c0f5f" stroke="none" stroke-width="0.8"/>
<polygon points="504.95,207.65 506.15,205.90 507.35,207.65 506.15,209.40" fill="#9c0f5f" stroke="none" stroke-width="1"/>
<line x1="594.40" y1="83.44" x2="594.40" y2="193.47" stroke="#333" stroke-width="1.0" />
<line x1="591.00" y1="83.44" x2="597.80" y2="83.44" stroke="#ff88c8" stroke-width="1.0" />
<line x1="591.00" y1="193.47" x2="597.80" y2="193.47" stroke="#ff88c8" stroke-width="1.0" />
<circle cx="594.30" cy="133.20" r="3.5" fill="#ffff00" stroke="#ffa8b8" stroke-width="0.8"/>
<polygon points="594.30,125.10 590.10,131.90 598.50,131.90" fill="#ff7cc4" stroke="none" stroke-width="1"/>
<text x="600.05" y="87.60" font-size="12.3" fill="#000" textLength="60.29" lengthAdjust="spacingAndGlyphs" >712 (90%)</text>
<text x="600.63" y="197.50" font-size="12.2" fill="#000" textLength="55.96" lengthAdjust="spacingAndGlyphs" >192(10%)</text>
<line x1="449.50" y1="1.50" x2="665.95" y2="1.50" stroke="#555" stroke-width="1.3" />
<line x1="665.30" y1="1.50" x2="665.30" y2="234.10" stroke="#555" stroke-width="1.3" />
<line x1="447.70" y1="234.10" x2="665.95" y2="234.10" stroke="#555" stroke-width="1.3" />
<line x1="451.20" y1="1.50" x2="451.20" y2="234.10" stroke="#555" stroke-width="1.3" />
<line x1="447.20" y1="234.10" x2="451.20" y2="234.10" stroke="#555" stroke-width="1.1" />
<text x="436.21" y="239.10" font-size="16.0" fill="#000" textLength="8.63" lengthAdjust="spacingAndGlyphs" >0</text>
<line x1="448.90" y1="212.94" x2="451.20" y2="212.94" stroke="#555" stroke-width="1.1" />
<line x1="663.10" y1="212.94" x2="665.30" y2="212.94" stroke="#555" stroke-width="1.1" />
<line x1="447.20" y1="191.78" x2="451.20" y2="191.78" stroke="#555" stroke-width="1.1" />
<text x="418.98" y="196.78" font-size="16.0" fill="#000" textLength="25.90" lengthAdjust="spacingAndGlyphs" >200</text>
<line x1="663.10" y1="191.78" x2="665.30" y2="191.78" stroke="#555" stroke-width="1.1" />
<line x1="448.90" y1="170.62" x2="451.20" y2="170.62" stroke="#555" stroke-width="1.1" />
<line x1="663.10" y1="170.62" x2="665.30" y2="170.62" stroke="#555" stroke-width="1.1" />
<line x1="447.20" y1="149.46" x2="451.20" y2="149.46" stroke="#555" stroke-width="1.1" />
<text x="418.98" y="154.46" font-size="16.0" fill="#000" textLength="25.90" lengthAdjust="spacingAndGlyphs" >400</text>
<line x1="663.10" y1="149.46" x2="665.30" y2="149.46" stroke="#555" stroke-width="1.1" />
<line x1="448.90" y1="128.30" x2="451.20" y2="128.30" stroke="#555" stroke-width="1.1" />
<line x1="663.10" y1="128.30" x2="665.30" y2="128.30" stroke="#555" stroke-width="1.1" />
<line x1="447.20" y1="107.14" x2="451.20" y2="107.14" stroke="#555" stroke-width="1.1" />
<text x="418.98" y="112.14" font-size="16.0" fill="#000" textLength="25.90" lengthAdjust="spacingAndGlyphs" >600</text>
<line x1="663.10" y1="107.14" x2="665.30" y2="107.14" stroke="#555" stroke-width="1.1" />
<line x1="448.90" y1="85.98" x2="451.20" y2="85.98" stroke="#555" stroke-width="1.1" />
<line x1="663.10" y1="85.98" x2="665.30" y2="85.98" stroke="#555" stroke-width="1.1" />
<line x1="447.20" y1="64.82" x2="451.20" y2="64.82" stroke="#555" stroke-width="1.1" />
<text x="418.98" y="69.82" font-size="16.0" fill="#000" textLength="25.90" lengthAdjust="spacingAndGlyphs" >800</text>
<line x1="663.10" y1="64.82" x2="665.30" y2="64.82" stroke="#555" stroke-width="1.1" />
<line x1="448.90" y1="43.66" x2="451.20" y2="43.66" stroke="#555" stroke-width="1.1" />
<line x1="663.10" y1="43.66" x2="665.30" y2="43.66" stroke="#555" stroke-width="1.1" />
<line x1="447.20" y1="22.50" x2="451.20" y2="22.50" stroke="#555" stroke-width="1.1" />
<text x="410.29" y="27.50" font-size="16.0" fill="#000" textLength="34.53" lengthAdjust="spacingAndGlyphs" >1000</text>
<line x1="663.10" y1="22.50" x2="665.30" y2="22.50" stroke="#555" stroke-width="1.1" />
<text transform="translate(401.30,194.47) rotate(-90)" font-size="23" fill="#000" textLength="154.24" lengthAdjust="spacingAndGlyphs">Hardness (HV)</text>
<text x="449.40" y="253.70" font-size="16" fill="#000" textLength="218.32" lengthAdjust="spacingAndGlyphs" >Hardness Distribution:Training</text>
<text x="636.43" y="226.90" font-size="20.5" fill="#c80000" textLength="25.78" lengthAdjust="spacingAndGlyphs" >(b)</text>
<line x1="550.20" y1="4.80" x2="550.20" y2="17.00" stroke="#333" stroke-width="1.0" />
<line x1="545.90" y1="4.80" x2="554.50" y2="4.80" stroke="#333" stroke-width="1.0" />
<line x1="545.90" y1="17.00" x2="554.50" y2="17.00" stroke="#333" stroke-width="1.0" />
<circle cx="550.20" cy="25.90" r="3.5" fill="#ffff00" stroke="#ffa8b8" stroke-width="0.8"/>
<polygon points="550.10,36.20 545.80,43.70 554.40,43.70" fill="#ff7cc4" stroke="none" stroke-width="1"/>
<text x="564.79" y="14.80" font-size="12" fill="#000" textLength="98.07" lengthAdjust="spacingAndGlyphs" >10-90% percentile</text>
<text x="564.40" y="29.70" font-size="12" fill="#000" text-anchor="start" textLength="30.6" lengthAdjust="spacingAndGlyphs">Mean</text>
<text x="564.40" y="44.50" font-size="12" fill="#000" text-anchor="start" textLength="40.2" lengthAdjust="spacingAndGlyphs">Median</text>
<path d="M142.4,516.3 L142.4,323.9 L145.20,323.90 C146.15,325.95 148.90,332.03 150.90,336.20 C152.90,340.37 154.90,344.67 157.20,348.90 C159.50,353.13 161.87,357.72 164.70,361.60 C167.53,365.48 170.32,369.02 174.20,372.20 C178.08,375.38 182.88,377.87 188.00,380.70 C193.12,383.53 198.90,386.03 204.90,389.20 C210.90,392.37 218.35,396.53 224.00,399.70 C229.65,402.87 234.92,405.37 238.80,408.20 C242.68,411.03 245.35,414.15 247.30,416.70 C249.25,419.25 250.85,420.95 250.50,423.50 C250.15,426.05 247.57,429.13 245.20,432.00 C242.83,434.87 239.43,438.18 236.30,440.70 C233.17,443.22 229.70,444.75 226.40,447.10 C223.10,449.45 219.20,452.33 216.50,454.80 C213.80,457.27 211.73,459.53 210.20,461.90 C208.67,464.27 207.82,466.77 207.30,469.00 C206.78,471.23 206.85,473.07 207.10,475.30 C207.35,477.53 208.35,480.03 208.80,482.40 C209.25,484.77 209.80,487.27 209.80,489.50 C209.80,491.73 209.80,493.92 208.80,495.80 C207.80,497.68 206.05,499.03 203.80,500.80 C201.55,502.57 198.37,504.63 195.30,506.40 C192.23,508.17 188.70,509.75 185.40,511.40 C182.10,513.05 177.15,515.48 175.50,516.30 Z" fill="#e3fcc2" stroke="#b8e8a0" stroke-width="0.8"/>
<circle cx="135.20" cy="350.88" r="1.35" fill="#009a00" stroke="none" stroke-width="0.8"/>
<circle cx="128.43" cy="350.88" r="1.35" fill="#009a00" stroke="none" stroke-width="0.8"/>
<circle cx="135.20" cy="361.55" r="1.35" fill="#009a00" stroke="none" stroke-width="0.8"/>
<circle cx="135.20" cy="372.22" r="1.35" fill="#009a00" stroke="none" stroke-width="0.8"/>
<circle cx="128.43" cy="372.22" r="1.35" fill="#009a00" stroke="none" stroke-width="0.8"/>
<circle cx="135.20" cy="393.56" r="1.35" fill="#009a00" stroke="none" stroke-width="0.8"/>
<circle cx="128.43" cy="393.56" r="1.35" fill="#009a00" stroke="none" stroke-width="0.8"/>
<circle cx="121.66" cy="393.56" r="1.35" fill="#009a00" stroke="none" stroke-width="0.8"/>
<circle cx="135.20" cy="404.23" r="1.35" fill="#009a00" stroke="none" stroke-width="0.8"/>
<circle cx="128.43" cy="404.23" r="1.35" fill="#009a00" stroke="none" stroke-width="0.8"/>
<circle cx="121.66" cy="404.23" r="1.35" fill="#009a00" stroke="none" stroke-width="0.8"/>
<circle cx="114.89" cy="404.23" r="1.35" fill="#009a00" stroke="none" stroke-width="0.8"/>
<circle cx="108.12" cy="404.23" r="1.35" fill="#009a00" stroke="none" stroke-width="0.8"/>
<circle cx="135.20" cy="414.90" r="1.35" fill="#009a00" stroke="none" stroke-width="0.8"/>
<circle cx="128.43" cy="414.90" r="1.35" fill="#009a00" stroke="none" stroke-width="0.8"/>
<circle cx="121.66" cy="414.90" r="1.35" fill="#009a00" stroke="none" stroke-width="0.8"/>
<circle cx="114.89" cy="414.90" r="1.35" fill="#009a00" stroke="none" stroke-width="0.8"/>
<circle cx="108.12" cy="414.90" r="1.35" fill="#009a00" stroke="none" stroke-width="0.8"/>
<circle cx="101.35" cy="414.90" r="1.35" fill="#009a00" stroke="none" stroke-width="0.8"/>
<circle cx="94.58" cy="414.90" r="1.35" fill="#009a00" stroke="none" stroke-width="0.8"/>
<circle cx="87.81" cy="414.90" r="1.35" fill="#009a00" stroke="none" stroke-width="0.8"/>
<circle cx="135.20" cy="425.57" r="1.35" fill="#009a00" stroke="none" stroke-width="0.8"/>
<circle cx="128.43" cy="425.57" r="1.35" fill="#009a00" stroke="none" stroke-width="0.8"/>
<circle cx="121.66" cy="425.57" r="1.35" fill="#009a00" stroke="none" stroke-width="0.8"/>
<circle cx="114.89" cy="425.57" r="1.35" fill="#009a00" stroke="none" stroke-width="0.8"/>
<circle cx="108.12" cy="425.57" r="1.35" fill="#009a00" stroke="none" stroke-width="0.8"/>
<circle cx="101.35" cy="425.57" r="1.35" fill="#009a00" stroke="none" stroke-width="0.8"/>
<circle cx="94.58" cy="425.57" r="1.35" fill="#009a00" stroke="none" stroke-width="0.8"/>
<circle cx="135.20" cy="436.24" r="1.35" fill="#009a00" stroke="none" stroke-width="0.8"/>
<circle cx="128.43" cy="436.24" r="1.35" fill="#009a00" stroke="none" stroke-width="0.8"/>
<circle cx="121.66" cy="436.24" r="1.35" fill="#009a00" stroke="none" stroke-width="0.8"/>
<circle cx="114.89" cy="436.24" r="1.35" fill="#009a00" stroke="none" stroke-width="0.8"/>
<circle cx="108.12" cy="436.24" r="1.35" fill="#009a00" stroke="none" stroke-width="0.8"/>
<circle cx="135.20" cy="446.91" r="1.35" fill="#009a00" stroke="none" stroke-width="0.8"/>
<circle cx="128.43" cy="446.91" r="1.35" fill="#009a00" stroke="none" stroke-width="0.8"/>
<circle cx="121.66" cy="446.91" r="1.35" fill="#009a00" stroke="none" stroke-width="0.8"/>
<circle cx="114.89" cy="446.91" r="1.35" fill="#009a00" stroke="none" stroke-width="0.8"/>
<circle cx="135.20" cy="457.58" r="1.35" fill="#009a00" stroke="none" stroke-width="0.8"/>
<circle cx="128.43" cy="457.58" r="1.35" fill="#009a00" stroke="none" stroke-width="0.8"/>
<circle cx="121.66" cy="457.58" r="1.35" fill="#009a00" stroke="none" stroke-width="0.8"/>
<circle cx="135.20" cy="468.25" r="1.35" fill="#009a00" stroke="none" stroke-width="0.8"/>
<circle cx="128.43" cy="468.25" r="1.35" fill="#009a00" stroke="none" stroke-width="0.8"/>
<circle cx="121.66" cy="468.25" r="1.35" fill="#009a00" stroke="none" stroke-width="0.8"/>
<circle cx="135.20" cy="478.92" r="1.35" fill="#009a00" stroke="none" stroke-width="0.8"/>
<circle cx="128.43" cy="478.92" r="1.35" fill="#009a00" stroke="none" stroke-width="0.8"/>
<circle cx="135.20" cy="489.59" r="1.35" fill="#009a00" stroke="none" stroke-width="0.8"/>
<circle cx="128.43" cy="489.59" r="1.35" fill="#009a00" stroke="none" stroke-width="0.8"/>
<circle cx="121.66" cy="489.59" r="1.35" fill="#009a00" stroke="none" stroke-width="0.8"/>
<circle cx="114.89" cy="489.59" r="1.35" fill="#009a00" stroke="none" stroke-width="0.8"/>
<circle cx="108.12" cy="489.59" r="1.35" fill="#009a00" stroke="none" stroke-width="0.8"/>
<circle cx="101.35" cy="489.59" r="1.35" fill="#009a00" stroke="none" stroke-width="0.8"/>
<circle cx="135.20" cy="500.25" r="1.35" fill="#009a00" stroke="none" stroke-width="0.8"/>
<circle cx="128.43" cy="500.25" r="1.35" fill="#009a00" stroke="none" stroke-width="0.8"/>
<circle cx="121.66" cy="500.25" r="1.35" fill="#009a00" stroke="none" stroke-width="0.8"/>
<circle cx="114.89" cy="500.25" r="1.35" fill="#009a00" stroke="none" stroke-width="0.8"/>
<circle cx="108.12" cy="500.25" r="1.35" fill="#009a00" stroke="none" stroke-width="0.8"/>
<circle cx="135.20" cy="510.93" r="1.35" fill="#009a00" stroke="none" stroke-width="0.8"/>
<circle cx="128.43" cy="510.93" r="1.35" fill="#009a00" stroke="none" stroke-width="0.8"/>
<line x1="210.20" y1="392.50" x2="210.20" y2="498.20" stroke="#333" stroke-width="1.0" />
<line x1="207.00" y1="392.50" x2="213.80" y2="392.50" stroke="#ff88c8" stroke-width="1.0" />
<line x1="207.00" y1="498.20" x2="213.80" y2="498.20" stroke="#ff88c8" stroke-width="1.0" />
<circle cx="210.20" cy="440.00" r="3.5" fill="#ffff00" stroke="#ffa8b8" stroke-width="0.8"/>
<polygon points="210.20,428.70 206.00,436.20 214.40,436.20" fill="#ff7cc4" stroke="none" stroke-width="1"/>
<text x="215.44" y="395.50" font-size="12.3" fill="#000" textLength="60.70" lengthAdjust="spacingAndGlyphs" >681 (90%)</text>
<text x="215.53" y="501.20" font-size="12.2" fill="#000" textLength="59.70" lengthAdjust="spacingAndGlyphs" >187 (10%)</text>
<line x1="66.00" y1="303.30" x2="282.35" y2="303.30" stroke="#555" stroke-width="1.3" />
<line x1="281.70" y1="303.30" x2="281.70" y2="537.40" stroke="#555" stroke-width="1.3" />
<line x1="63.80" y1="537.40" x2="282.35" y2="537.40" stroke="#555" stroke-width="1.3" />
<line x1="67.30" y1="303.30" x2="67.30" y2="537.40" stroke="#555" stroke-width="1.3" />
<line x1="63.50" y1="537.60" x2="67.30" y2="537.60" stroke="#555" stroke-width="1.1" />
<text x="52.56" y="542.50" font-size="16.3" fill="#000" textLength="8.79" lengthAdjust="spacingAndGlyphs" >0</text>
<line x1="65.00" y1="516.26" x2="67.30" y2="516.26" stroke="#555" stroke-width="1.1" />
<line x1="279.50" y1="516.26" x2="281.70" y2="516.26" stroke="#555" stroke-width="1.1" />
<line x1="63.50" y1="494.92" x2="67.30" y2="494.92" stroke="#555" stroke-width="1.1" />
<text x="35.01" y="499.82" font-size="16.3" fill="#000" textLength="26.38" lengthAdjust="spacingAndGlyphs" >200</text>
<line x1="279.50" y1="494.92" x2="281.70" y2="494.92" stroke="#555" stroke-width="1.1" />
<line x1="65.00" y1="473.58" x2="67.30" y2="473.58" stroke="#555" stroke-width="1.1" />
<line x1="279.50" y1="473.58" x2="281.70" y2="473.58" stroke="#555" stroke-width="1.1" />
<line x1="63.50" y1="452.24" x2="67.30" y2="452.24" stroke="#555" stroke-width="1.1" />
<text x="35.01" y="457.14" font-size="16.3" fill="#000" textLength="26.38" lengthAdjust="spacingAndGlyphs" >400</text>
<line x1="279.50" y1="452.24" x2="281.70" y2="452.24" stroke="#555" stroke-width="1.1" />
<line x1="65.00" y1="430.90" x2="67.30" y2="430.90" stroke="#555" stroke-width="1.1" />
<line x1="279.50" y1="430.90" x2="281.70" y2="430.90" stroke="#555" stroke-width="1.1" />
<line x1="63.50" y1="409.56" x2="67.30" y2="409.56" stroke="#555" stroke-width="1.1" />
<text x="35.01" y="414.46" font-size="16.3" fill="#000" textLength="26.38" lengthAdjust="spacingAndGlyphs" >600</text>
<line x1="279.50" y1="409.56" x2="281.70" y2="409.56" stroke="#555" stroke-width="1.1" />
<line x1="65.00" y1="388.22" x2="67.30" y2="388.22" stroke="#555" stroke-width="1.1" />
<line x1="279.50" y1="388.22" x2="281.70" y2="388.22" stroke="#555" stroke-width="1.1" />
<line x1="63.50" y1="366.88" x2="67.30" y2="366.88" stroke="#555" stroke-width="1.1" />
<text x="35.01" y="371.78" font-size="16.3" fill="#000" textLength="26.38" lengthAdjust="spacingAndGlyphs" >800</text>
<line x1="279.50" y1="366.88" x2="281.70" y2="366.88" stroke="#555" stroke-width="1.1" />
<line x1="65.00" y1="345.54" x2="67.30" y2="345.54" stroke="#555" stroke-width="1.1" />
<line x1="279.50" y1="345.54" x2="281.70" y2="345.54" stroke="#555" stroke-width="1.1" />
<line x1="63.50" y1="324.20" x2="67.30" y2="324.20" stroke="#555" stroke-width="1.1" />
<text x="26.15" y="329.10" font-size="16.3" fill="#000" textLength="35.17" lengthAdjust="spacingAndGlyphs" >1000</text>
<line x1="279.50" y1="324.20" x2="281.70" y2="324.20" stroke="#555" stroke-width="1.1" />
<text transform="translate(17.60,497.16) rotate(-90)" font-size="23.3" fill="#000" textLength="153.83" lengthAdjust="spacingAndGlyphs">Hardness (HV)</text>
<text x="67.58" y="557.10" font-size="16" fill="#000" textLength="213.80" lengthAdjust="spacingAndGlyphs" >Hardness Distribution:Testing</text>
<text x="254.05" y="532.20" font-size="20.5" fill="#c80000" textLength="24.21" lengthAdjust="spacingAndGlyphs" >(c)</text>
<line x1="165.40" y1="306.30" x2="165.40" y2="318.30" stroke="#333" stroke-width="1.0" />
<line x1="161.00" y1="306.30" x2="169.80" y2="306.30" stroke="#333" stroke-width="1.0" />
<line x1="161.00" y1="318.30" x2="169.80" y2="318.30" stroke="#333" stroke-width="1.0" />
<circle cx="165.40" cy="327.30" r="3.5" fill="#ffff00" stroke="#ffa8b8" stroke-width="0.8"/>
<polygon points="165.10,338.30 160.80,344.90 169.40,344.90" fill="#ff7cc4" stroke="none" stroke-width="1"/>
<text x="179.48" y="316.30" font-size="12" fill="#000" textLength="98.88" lengthAdjust="spacingAndGlyphs" >10-90% percentile</text>
<text x="179.20" y="331.50" font-size="12" fill="#000" text-anchor="start" textLength="30.6" lengthAdjust="spacingAndGlyphs">Mean</text>
<text x="179.20" y="346.20" font-size="12" fill="#000" text-anchor="start" textLength="40.2" lengthAdjust="spacingAndGlyphs">Median</text>
<polygon points="403.80,519.20 668.00,350.69 668.00,307.50 612.78,307.50" fill="#e4edf2" stroke="none" stroke-width="1"/>
<line x1="403.80" y1="519.20" x2="668.00" y2="307.50" stroke="#2dd49a" stroke-width="1.6"/>
<circle cx="444.90" cy="488.60" r="3.4" fill="#555555" stroke="none" stroke-width="0.8" fill-opacity="0.95"/>
<circle cx="446.30" cy="473.40" r="3.4" fill="#555555" stroke="none" stroke-width="0.8" fill-opacity="0.95"/>
<circle cx="451.60" cy="463.80" r="3.4" fill="#555555" stroke="none" stroke-width="0.8" fill-opacity="0.95"/>
<circle cx="453.00" cy="484.00" r="3.4" fill="#555555" stroke="none" stroke-width="0.8" fill-opacity="0.95"/>
<circle cx="455.80" cy="451.50" r="3.4" fill="#555555" stroke="none" stroke-width="0.8" fill-opacity="0.95"/>
<circle cx="457.00" cy="470.00" r="3.4" fill="#555555" stroke="none" stroke-width="0.8" fill-opacity="0.95"/>
<circle cx="461.50" cy="470.50" r="3.4" fill="#555555" stroke="none" stroke-width="0.8" fill-opacity="0.95"/>
<circle cx="460.40" cy="476.20" r="3.4" fill="#555555" stroke="none" stroke-width="0.8" fill-opacity="0.95"/>
<circle cx="462.70" cy="475.80" r="3.4" fill="#555555" stroke="none" stroke-width="0.8" fill-opacity="0.95"/>
<circle cx="461.00" cy="473.00" r="3.4" fill="#555555" stroke="none" stroke-width="0.8" fill-opacity="0.95"/>
<circle cx="468.90" cy="465.60" r="3.4" fill="#555555" stroke="none" stroke-width="0.8" fill-opacity="0.95"/>
<circle cx="476.70" cy="468.60" r="3.4" fill="#555555" stroke="none" stroke-width="0.8" fill-opacity="0.95"/>
<circle cx="481.30" cy="435.20" r="3.4" fill="#555555" stroke="none" stroke-width="0.8" fill-opacity="0.95"/>
<circle cx="491.50" cy="443.50" r="3.4" fill="#555555" stroke="none" stroke-width="0.8" fill-opacity="0.95"/>
<circle cx="494.10" cy="429.20" r="3.4" fill="#555555" stroke="none" stroke-width="0.8" fill-opacity="0.95"/>
<circle cx="495.20" cy="467.70" r="3.4" fill="#555555" stroke="none" stroke-width="0.8" fill-opacity="0.95"/>
<circle cx="501.00" cy="421.80" r="3.4" fill="#555555" stroke="none" stroke-width="0.8" fill-opacity="0.95"/>
<circle cx="504.40" cy="467.20" r="3.4" fill="#555555" stroke="none" stroke-width="0.8" fill-opacity="0.95"/>
<circle cx="512.20" cy="421.80" r="3.4" fill="#555555" stroke="none" stroke-width="0.8" fill-opacity="0.95"/>
<circle cx="513.60" cy="430.60" r="3.4" fill="#555555" stroke="none" stroke-width="0.8" fill-opacity="0.95"/>
<circle cx="519.30" cy="471.60" r="3.4" fill="#555555" stroke="none" stroke-width="0.8" fill-opacity="0.95"/>
<circle cx="525.50" cy="377.80" r="3.4" fill="#555555" stroke="none" stroke-width="0.8" fill-opacity="0.95"/>
<circle cx="503.90" cy="391.30" r="3.4" fill="#555555" stroke="none" stroke-width="0.8" fill-opacity="0.95"/>
<circle cx="533.20" cy="388.30" r="3.4" fill="#555555" stroke="none" stroke-width="0.8" fill-opacity="0.95"/>
<circle cx="548.60" cy="385.40" r="3.4" fill="#555555" stroke="none" stroke-width="0.8" fill-opacity="0.95"/>
<circle cx="551.40" cy="393.60" r="3.4" fill="#555555" stroke="none" stroke-width="0.8" fill-opacity="0.95"/>
<circle cx="536.30" cy="400.80" r="3.4" fill="#555555" stroke="none" stroke-width="0.8" fill-opacity="0.95"/>
<circle cx="540.10" cy="404.50" r="3.4" fill="#555555" stroke="none" stroke-width="0.8" fill-opacity="0.95"/>
<circle cx="541.60" cy="409.30" r="3.4" fill="#555555" stroke="none" stroke-width="0.8" fill-opacity="0.95"/>
<circle cx="532.40" cy="409.90" r="3.4" fill="#555555" stroke="none" stroke-width="0.8" fill-opacity="0.95"/>
<circle cx="549.00" cy="401.60" r="3.4" fill="#555555" stroke="none" stroke-width="0.8" fill-opacity="0.95"/>
<circle cx="556.90" cy="399.10" r="3.4" fill="#555555" stroke="none" stroke-width="0.8" fill-opacity="0.95"/>
<circle cx="556.90" cy="402.60" r="3.4" fill="#555555" stroke="none" stroke-width="0.8" fill-opacity="0.95"/>
<circle cx="563.50" cy="396.50" r="3.4" fill="#555555" stroke="none" stroke-width="0.8" fill-opacity="0.95"/>
<circle cx="569.80" cy="397.20" r="3.4" fill="#555555" stroke="none" stroke-width="0.8" fill-opacity="0.95"/>
<circle cx="571.20" cy="402.30" r="3.4" fill="#555555" stroke="none" stroke-width="0.8" fill-opacity="0.95"/>
<circle cx="575.20" cy="400.10" r="3.4" fill="#555555" stroke="none" stroke-width="0.8" fill-opacity="0.95"/>
<circle cx="580.00" cy="397.20" r="3.4" fill="#555555" stroke="none" stroke-width="0.8" fill-opacity="0.95"/>
<circle cx="523.90" cy="415.40" r="3.4" fill="#555555" stroke="none" stroke-width="0.8" fill-opacity="0.95"/>
<circle cx="541.60" cy="416.20" r="3.4" fill="#555555" stroke="none" stroke-width="0.8" fill-opacity="0.95"/>
<circle cx="546.70" cy="419.60" r="3.4" fill="#555555" stroke="none" stroke-width="0.8" fill-opacity="0.95"/>
<circle cx="554.00" cy="418.40" r="3.4" fill="#555555" stroke="none" stroke-width="0.8" fill-opacity="0.95"/>
<circle cx="501.50" cy="421.60" r="3.4" fill="#555555" stroke="none" stroke-width="0.8" fill-opacity="0.95"/>
<circle cx="511.90" cy="420.40" r="3.4" fill="#555555" stroke="none" stroke-width="0.8" fill-opacity="0.95"/>
<circle cx="512.50" cy="422.20" r="3.4" fill="#555555" stroke="none" stroke-width="0.8" fill-opacity="0.95"/>
<circle cx="513.80" cy="430.80" r="3.4" fill="#555555" stroke="none" stroke-width="0.8" fill-opacity="0.95"/>
<circle cx="538.70" cy="431.20" r="3.4" fill="#555555" stroke="none" stroke-width="0.8" fill-opacity="0.95"/>
<circle cx="549.30" cy="428.90" r="3.4" fill="#555555" stroke="none" stroke-width="0.8" fill-opacity="0.95"/>
<circle cx="569.80" cy="426.10" r="3.4" fill="#555555" stroke="none" stroke-width="0.8" fill-opacity="0.95"/>
<circle cx="563.70" cy="396.50" r="3.4" fill="#555555" stroke="none" stroke-width="0.8" fill-opacity="0.95"/>
<circle cx="569.40" cy="396.50" r="3.4" fill="#555555" stroke="none" stroke-width="0.8" fill-opacity="0.95"/>
<circle cx="571.10" cy="402.00" r="3.4" fill="#555555" stroke="none" stroke-width="0.8" fill-opacity="0.95"/>
<circle cx="632.40" cy="409.80" r="3.4" fill="#555555" stroke="none" stroke-width="0.8" fill-opacity="0.95"/>
<circle cx="437.50" cy="482.40" r="3.5" fill="#f04545" stroke="none" stroke-width="0.8" fill-opacity="0.95"/>
<circle cx="525.10" cy="406.40" r="3.5" fill="#f04545" stroke="none" stroke-width="0.8" fill-opacity="0.95"/>
<circle cx="561.30" cy="400.10" r="3.5" fill="#f04545" stroke="none" stroke-width="0.8" fill-opacity="0.95"/>
<circle cx="572.30" cy="387.30" r="3.5" fill="#f04545" stroke="none" stroke-width="0.8" fill-opacity="0.95"/>
<circle cx="583.50" cy="403.10" r="3.5" fill="#f04545" stroke="none" stroke-width="0.8" fill-opacity="0.95"/>
<circle cx="550.40" cy="432.30" r="3.5" fill="#f04545" stroke="none" stroke-width="0.8" fill-opacity="0.95"/>
<circle cx="601.50" cy="400.30" r="3.5" fill="#f04545" stroke="none" stroke-width="0.8" fill-opacity="0.95"/>
<circle cx="605.70" cy="398.70" r="3.5" fill="#f04545" stroke="none" stroke-width="0.8" fill-opacity="0.95"/>
<circle cx="615.60" cy="395.30" r="3.5" fill="#f04545" stroke="none" stroke-width="0.8" fill-opacity="0.95"/>
<circle cx="639.70" cy="384.60" r="3.5" fill="#f04545" stroke="none" stroke-width="0.8" fill-opacity="0.95"/>
<circle cx="561.20" cy="400.20" r="3.5" fill="#f04545" stroke="none" stroke-width="0.8" fill-opacity="0.95"/>
<line x1="402.00" y1="307.50" x2="668.00" y2="307.50" stroke="#555" stroke-width="1.3" />
<line x1="668.00" y1="307.50" x2="668.00" y2="519.80" stroke="#555" stroke-width="1.3" />
<line x1="400.00" y1="519.20" x2="668.00" y2="519.20" stroke="#555" stroke-width="1.3" />
<line x1="403.80" y1="307.50" x2="403.80" y2="523.20" stroke="#555" stroke-width="1.3" />
<line x1="400.00" y1="519.20" x2="403.80" y2="519.20" stroke="#555" stroke-width="1.1" />
<text x="388.16" y="523.70" font-size="15.9" fill="#000" textLength="8.58" lengthAdjust="spacingAndGlyphs" >0</text>
<line x1="403.80" y1="519.20" x2="403.80" y2="523.40" stroke="#555" stroke-width="1.1" />
<text x="399.58" y="538.90" font-size="15.9" fill="#000" textLength="8.67" lengthAdjust="spacingAndGlyphs" >0</text>
<line x1="401.80" y1="498.03" x2="403.80" y2="498.03" stroke="#555" stroke-width="1.1" />
<line x1="430.22" y1="519.20" x2="430.22" y2="521.50" stroke="#555" stroke-width="1.1" />
<line x1="666.00" y1="498.03" x2="668.00" y2="498.03" stroke="#555" stroke-width="1.1" />
<line x1="430.22" y1="307.50" x2="430.22" y2="309.50" stroke="#555" stroke-width="1.1" />
<line x1="400.00" y1="476.86" x2="403.80" y2="476.86" stroke="#555" stroke-width="1.1" />
<text x="371.04" y="481.36" font-size="15.9" fill="#000" textLength="25.73" lengthAdjust="spacingAndGlyphs" >200</text>
<line x1="456.64" y1="519.20" x2="456.64" y2="523.40" stroke="#555" stroke-width="1.1" />
<text x="443.69" y="538.90" font-size="15.9" fill="#000" textLength="26.00" lengthAdjust="spacingAndGlyphs" >200</text>
<line x1="664.40" y1="476.86" x2="668.00" y2="476.86" stroke="#555" stroke-width="1.1" />
<line x1="456.64" y1="307.50" x2="456.64" y2="311.10" stroke="#555" stroke-width="1.1" />
<line x1="401.80" y1="455.69" x2="403.80" y2="455.69" stroke="#555" stroke-width="1.1" />
<line x1="483.06" y1="519.20" x2="483.06" y2="521.50" stroke="#555" stroke-width="1.1" />
<line x1="666.00" y1="455.69" x2="668.00" y2="455.69" stroke="#555" stroke-width="1.1" />
<line x1="483.06" y1="307.50" x2="483.06" y2="309.50" stroke="#555" stroke-width="1.1" />
<line x1="400.00" y1="434.52" x2="403.80" y2="434.52" stroke="#555" stroke-width="1.1" />
<text x="371.04" y="439.02" font-size="15.9" fill="#000" textLength="25.73" lengthAdjust="spacingAndGlyphs" >400</text>
<line x1="509.48" y1="519.20" x2="509.48" y2="523.40" stroke="#555" stroke-width="1.1" />
<text x="496.72" y="538.90" font-size="15.9" fill="#000" textLength="26.00" lengthAdjust="spacingAndGlyphs" >400</text>
<line x1="664.40" y1="434.52" x2="668.00" y2="434.52" stroke="#555" stroke-width="1.1" />
<line x1="509.48" y1="307.50" x2="509.48" y2="311.10" stroke="#555" stroke-width="1.1" />
<line x1="401.80" y1="413.35" x2="403.80" y2="413.35" stroke="#555" stroke-width="1.1" />
<line x1="535.90" y1="519.20" x2="535.90" y2="521.50" stroke="#555" stroke-width="1.1" />
<line x1="666.00" y1="413.35" x2="668.00" y2="413.35" stroke="#555" stroke-width="1.1" />
<line x1="535.90" y1="307.50" x2="535.90" y2="309.50" stroke="#555" stroke-width="1.1" />
<line x1="400.00" y1="392.18" x2="403.80" y2="392.18" stroke="#555" stroke-width="1.1" />
<text x="371.04" y="396.68" font-size="15.9" fill="#000" textLength="25.73" lengthAdjust="spacingAndGlyphs" >600</text>
<line x1="562.32" y1="519.20" x2="562.32" y2="523.40" stroke="#555" stroke-width="1.1" />
<text x="549.37" y="538.90" font-size="15.9" fill="#000" textLength="26.00" lengthAdjust="spacingAndGlyphs" >600</text>
<line x1="664.40" y1="392.18" x2="668.00" y2="392.18" stroke="#555" stroke-width="1.1" />
<line x1="562.32" y1="307.50" x2="562.32" y2="311.10" stroke="#555" stroke-width="1.1" />
<line x1="401.80" y1="371.01" x2="403.80" y2="371.01" stroke="#555" stroke-width="1.1" />
<line x1="588.74" y1="519.20" x2="588.74" y2="521.50" stroke="#555" stroke-width="1.1" />
<line x1="666.00" y1="371.01" x2="668.00" y2="371.01" stroke="#555" stroke-width="1.1" />
<line x1="588.74" y1="307.50" x2="588.74" y2="309.50" stroke="#555" stroke-width="1.1" />
<line x1="400.00" y1="349.84" x2="403.80" y2="349.84" stroke="#555" stroke-width="1.1" />
<text x="371.04" y="354.34" font-size="15.9" fill="#000" textLength="25.73" lengthAdjust="spacingAndGlyphs" >800</text>
<line x1="615.16" y1="519.20" x2="615.16" y2="523.40" stroke="#555" stroke-width="1.1" />
<text x="602.25" y="538.90" font-size="15.9" fill="#000" textLength="26.00" lengthAdjust="spacingAndGlyphs" >800</text>
<line x1="664.40" y1="349.84" x2="668.00" y2="349.84" stroke="#555" stroke-width="1.1" />
<line x1="615.16" y1="307.50" x2="615.16" y2="311.10" stroke="#555" stroke-width="1.1" />
<line x1="401.80" y1="328.67" x2="403.80" y2="328.67" stroke="#555" stroke-width="1.1" />
<line x1="641.58" y1="519.20" x2="641.58" y2="521.50" stroke="#555" stroke-width="1.1" />
<line x1="666.00" y1="328.67" x2="668.00" y2="328.67" stroke="#555" stroke-width="1.1" />
<line x1="641.58" y1="307.50" x2="641.58" y2="309.50" stroke="#555" stroke-width="1.1" />
<line x1="400.00" y1="307.50" x2="403.80" y2="307.50" stroke="#555" stroke-width="1.1" />
<text x="362.40" y="312.00" font-size="15.9" fill="#000" textLength="34.31" lengthAdjust="spacingAndGlyphs" >1000</text>
<line x1="668.00" y1="519.20" x2="668.00" y2="523.40" stroke="#555" stroke-width="1.1" />
<text x="650.49" y="538.90" font-size="15.9" fill="#000" textLength="34.67" lengthAdjust="spacingAndGlyphs" >1000</text>
<text transform="translate(354.60,526.84) rotate(-90)" font-size="20.3" fill="#000" textLength="227.78" lengthAdjust="spacingAndGlyphs">Predicted Hardness (HV)</text>
<text x="446.91" y="561.30" font-size="17.7" fill="#000" textLength="179.20" lengthAdjust="spacingAndGlyphs" >Actual Hardness (HV)</text>
<text x="409.75" y="299.10" font-size="16.2" fill="#000" textLength="248.03" lengthAdjust="spacingAndGlyphs" >Model Performance over Test set</text>
<text x="408.62" y="326.80" font-size="16.2" fill="#a5166e" textLength="139.53" lengthAdjust="spacingAndGlyphs" >Avg % Err = 18.6%</text>
<text x="408.38" y="346.90" font-size="16.2" fill="#a5166e" textLength="86.53" lengthAdjust="spacingAndGlyphs" >MAE = 82.8</text>
<text x="408.36" y="367.20" font-size="16.2" fill="#a5166e" textLength="94.44" lengthAdjust="spacingAndGlyphs" >RMSE = 112</text>
<text x="607.15" y="326.50" font-size="17" fill="#1d5080" textLength="31.58" lengthAdjust="spacingAndGlyphs" >0.62</text>
<circle cx="569.30" cy="464.90" r="3.5" fill="#555555" stroke="none" stroke-width="0.8"/>
<circle cx="569.30" cy="484.20" r="3.5" fill="#f04545" stroke="none" stroke-width="0.8"/>
<text x="587.92" y="470.80" font-size="15.7" fill="#000" textLength="76.90" lengthAdjust="spacingAndGlyphs" >Arc Melting</text>
<text x="587.36" y="489.90" font-size="15.7" fill="#000" textLength="63.24" lengthAdjust="spacingAndGlyphs" >MA+SPS</text>
<text x="638.33" y="509.30" font-size="20.5" fill="#c80000" textLength="25.89" lengthAdjust="spacingAndGlyphs" >(d)</text>
</svg></body></html>
